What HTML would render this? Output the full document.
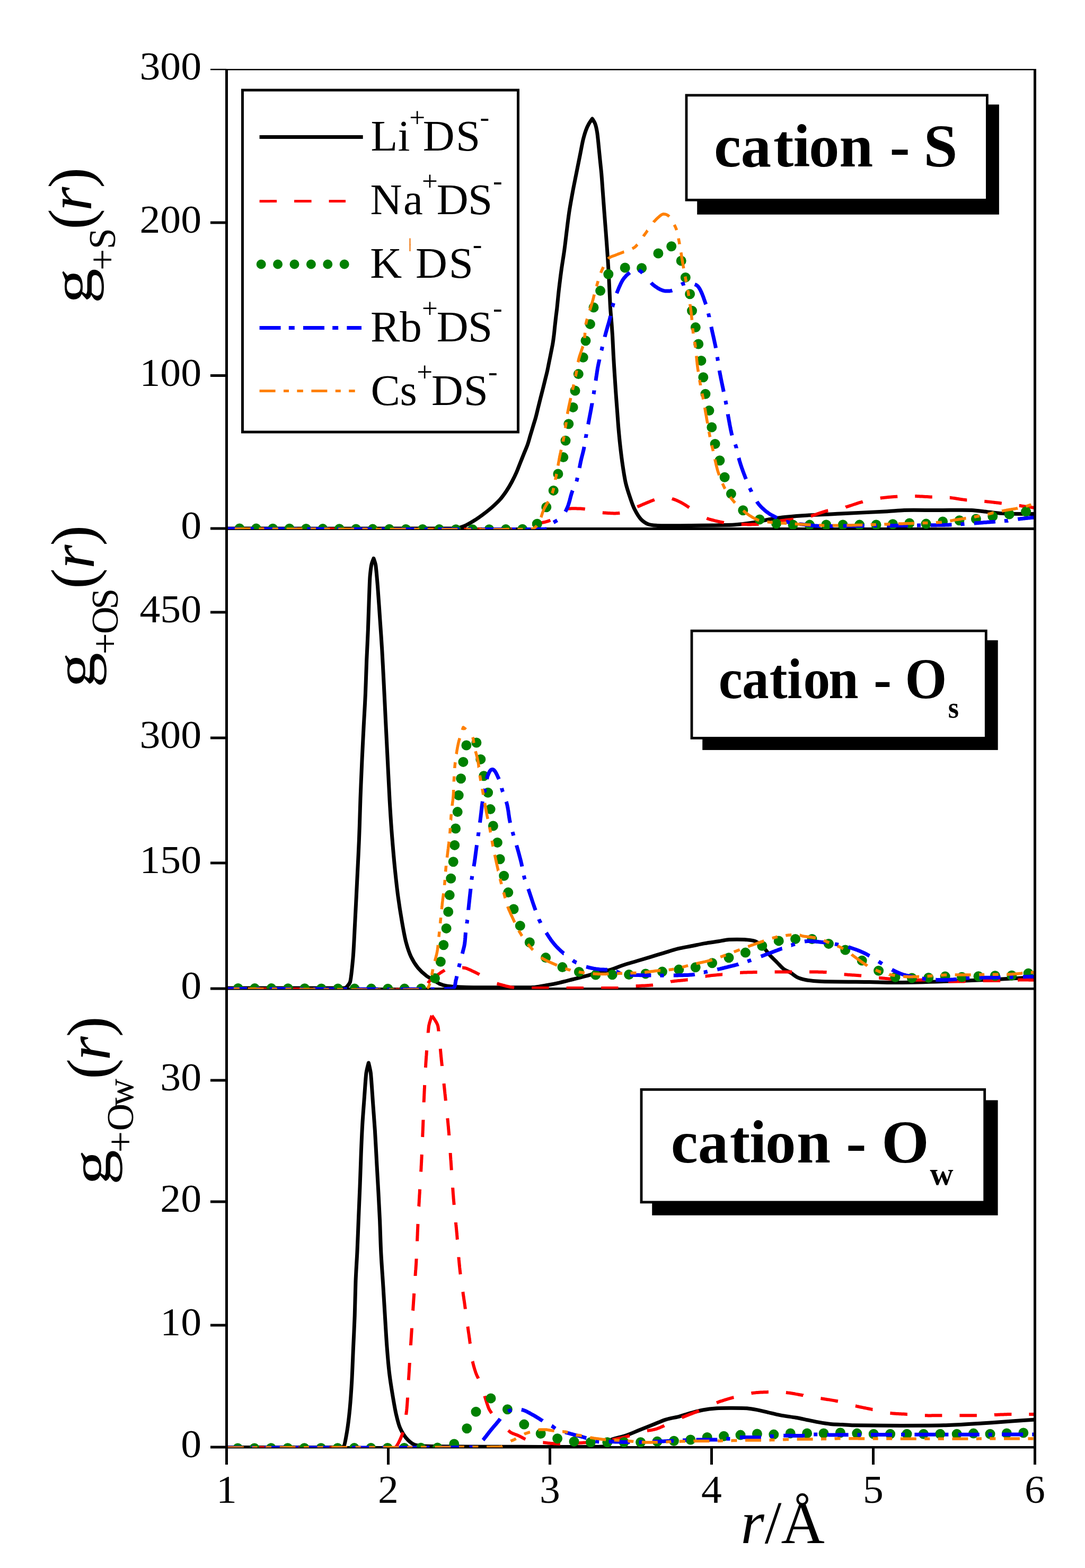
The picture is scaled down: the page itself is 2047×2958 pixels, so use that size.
<!DOCTYPE html>
<html><head><meta charset="utf-8"><style>
html,body{margin:0;padding:0;background:#fff;}
svg{display:block;}
</style></head><body>
<svg width="2047" height="2958" viewBox="0 0 2047 2958">
<rect width="2047" height="2958" fill="#fff"/>
<g fill="#000">
<rect x="425" y="130" width="1530" height="2.5"/>
<rect x="425" y="130" width="5" height="2604"/>
<rect x="1950" y="130" width="5" height="2604"/>
<rect x="425" y="995" width="1530" height="5"/>
<rect x="425" y="1863" width="1530" height="4.5"/>
<rect x="425" y="2728" width="1530" height="4.5"/>
<rect x="397" y="129.8" width="30" height="2.5"/>
<rect x="397" y="417.5" width="30" height="5"/>
<rect x="397" y="706.0" width="30" height="5"/>
<rect x="397" y="994.5" width="30" height="5"/>
<rect x="397" y="1152.5" width="30" height="5"/>
<rect x="397" y="1389.5" width="30" height="5"/>
<rect x="397" y="1625.5" width="30" height="5"/>
<rect x="397" y="1862.5" width="30" height="5"/>
<rect x="397" y="2035.5" width="30" height="5"/>
<rect x="397" y="2264.5" width="30" height="5"/>
<rect x="397" y="2497.5" width="30" height="5"/>
<rect x="397" y="2727.5" width="30" height="5"/>
<rect x="425.0" y="2730" width="5" height="33"/>
<rect x="730.0" y="2730" width="5" height="33"/>
<rect x="1035.0" y="2730" width="5" height="33"/>
<rect x="1340.0" y="2730" width="5" height="33"/>
<rect x="1645.0" y="2730" width="5" height="33"/>
<rect x="1950.0" y="2730" width="5" height="33"/>
</g>
<clipPath id="cp1"><rect x="430" y="132.5" width="1520" height="865.7"/></clipPath>
<g clip-path="url(#cp1)">
<path d="M430.0 997.0C573.3 997.0 854.6 997.7 860.0 997.0C865.4 996.3 870.6 994.7 875.6 992.6C880.6 990.5 888.7 985.7 894.7 982.0C900.7 978.3 906.4 974.2 912.0 970.0C917.6 965.8 924.5 960.3 929.3 956.0C934.1 951.7 938.9 947.3 943.2 942.5C947.5 937.7 951.6 932.0 955.3 926.5C959.0 921.0 962.6 914.8 965.7 909.0C968.8 903.2 971.9 896.9 974.4 891.2C976.9 885.5 979.0 879.6 981.3 873.8C983.6 868.0 985.9 862.3 988.2 856.5C990.5 850.7 993.2 844.9 995.2 839.2C997.2 833.5 998.7 827.6 1000.4 821.8C1002.1 816.0 1003.9 810.3 1005.6 804.5C1007.3 798.7 1009.2 793.0 1010.8 787.2C1012.4 781.4 1013.7 775.6 1015.1 769.8C1016.5 764.0 1018.0 758.3 1019.4 752.5C1020.8 746.7 1022.4 741.0 1023.8 735.2C1025.2 729.4 1026.7 723.7 1028.1 717.9C1029.5 712.1 1031.1 706.2 1032.4 700.5C1033.7 694.8 1034.7 689.0 1035.9 683.2C1037.1 677.4 1038.3 671.7 1039.4 665.9C1040.5 660.1 1041.8 654.2 1042.8 648.5C1043.8 642.8 1044.5 636.9 1045.2 631.2C1045.9 625.5 1046.4 619.3 1047.0 614.0C1047.6 608.7 1048.2 603.3 1048.8 598.0C1049.4 592.7 1050.2 587.3 1050.8 582.0C1051.4 576.7 1053.1 558.0 1054.5 546.0C1055.9 534.0 1057.4 521.6 1059.1 509.4C1060.8 497.2 1062.9 485.1 1064.6 473.0C1066.3 460.9 1067.6 448.7 1069.1 436.6C1070.6 424.5 1072.0 412.3 1073.8 400.2C1075.6 388.1 1077.9 375.9 1080.1 363.8C1082.3 351.7 1084.9 339.5 1087.3 327.4C1089.7 315.3 1092.8 300.1 1094.6 291.0C1096.4 281.9 1098.6 269.8 1100.1 263.7C1101.6 257.6 1104.0 249.6 1105.5 245.5C1107.0 241.4 1109.1 236.8 1111.0 233.5C1112.9 230.2 1117.4 224.0 1117.4 224.0C1117.4 224.0 1121.5 230.1 1122.8 233.5C1124.1 236.9 1125.6 243.8 1126.5 249.1C1127.4 254.4 1128.4 264.9 1129.2 272.8C1130.0 280.7 1131.0 291.0 1131.9 300.1C1132.8 309.2 1133.9 318.3 1134.7 327.4C1135.5 336.5 1136.5 351.7 1137.4 363.8C1138.3 375.9 1139.2 388.1 1140.1 400.2C1141.0 412.3 1142.0 424.5 1142.9 436.6C1143.8 448.7 1144.8 460.9 1145.6 473.0C1146.4 485.1 1147.3 497.3 1148.0 509.4C1148.7 521.5 1149.2 533.7 1149.8 545.8C1150.4 557.9 1151.0 572.9 1151.6 582.2C1152.2 591.5 1153.3 601.8 1153.9 610.0C1154.5 618.2 1155.1 626.5 1155.6 634.7C1156.1 642.9 1156.7 657.9 1157.3 669.4C1157.9 680.9 1158.7 692.5 1159.4 704.0C1160.1 715.5 1160.9 727.1 1161.7 738.7C1162.5 750.3 1163.4 761.8 1164.3 773.4C1165.2 785.0 1165.9 796.5 1166.9 808.1C1167.9 819.7 1169.0 831.3 1170.3 842.8C1171.6 854.3 1173.0 865.9 1174.7 877.4C1176.4 888.9 1178.6 903.3 1180.7 912.1C1182.8 920.9 1186.0 930.5 1188.6 938.1C1191.2 945.7 1193.8 954.0 1197.2 960.7C1200.6 967.4 1205.5 975.7 1209.4 979.7C1213.3 983.7 1218.0 987.0 1223.2 989.0C1228.4 991.0 1234.8 991.1 1240.6 991.5C1246.4 991.9 1280.2 991.7 1300.0 991.5C1319.8 991.3 1373.3 990.8 1385.0 990.0C1396.7 989.2 1409.9 987.6 1420.0 986.0C1430.1 984.4 1441.4 981.5 1450.0 980.0C1458.6 978.5 1467.3 977.0 1476.0 976.0C1484.7 975.0 1501.3 973.6 1514.0 972.7C1526.7 971.8 1565.3 970.1 1591.0 968.8C1616.7 967.5 1663.3 965.3 1674.0 964.7C1684.7 964.1 1695.3 962.9 1706.0 962.5C1716.7 962.1 1749.0 962.5 1770.0 962.5C1791.0 962.5 1822.3 961.9 1833.0 962.5C1843.7 963.1 1854.3 964.9 1865.0 966.0C1875.7 967.1 1886.3 968.5 1897.0 969.0C1907.7 969.5 1933.7 969.3 1952.0 969.5" stroke="#000000" stroke-width="7" fill="none" stroke-linejoin="round"/>
<path d="M430.0 997.8L431.5 997.8L433.0 997.8L434.5 997.8L436.1 997.8L437.6 997.8L439.1 997.8L440.7 997.8L442.2 997.8L443.8 997.8L445.4 997.8L447.0 997.8L448.5 997.8L449.3 997.8M482.3 997.8L483.3 997.8L485.1 997.8L486.8 997.8L488.5 997.8L490.3 997.8L492.0 997.8L493.8 997.8L495.5 997.8L497.3 997.8L499.1 997.9L500.8 997.9L502.6 997.9L504.4 997.9L506.2 997.9L508.0 997.9L509.8 997.9L511.6 997.9L513.4 997.9L514.8 997.9M547.8 997.9L548.5 997.9L550.4 997.9L552.3 997.9L554.2 997.9L556.1 997.9L558.0 997.9L559.9 997.9L561.8 998.0L563.8 998.0L565.7 998.0L567.6 998.0L569.5 998.0L571.4 998.0L573.4 998.0L575.3 998.0L577.2 998.0L579.2 998.0L580.3 998.0M613.3 998.0L614.4 998.1L616.3 998.1L618.3 998.1L620.3 998.1L622.3 998.1L624.2 998.1L626.2 998.1L628.2 998.1L630.2 998.1L632.2 998.1L634.1 998.1L636.1 998.1L638.1 998.1L640.1 998.1L642.1 998.1L644.1 998.1L645.8 998.1M678.8 998.2L679.9 998.2L681.8 998.2L683.8 998.2L685.8 998.2L687.8 998.2L689.8 998.2L691.8 998.2L693.7 998.2L695.7 998.2L697.7 998.2L699.7 998.2L701.7 998.2L703.6 998.2L705.6 998.2L707.6 998.2L709.6 998.2L711.3 998.3M744.3 998.3L744.7 998.3L746.7 998.3L748.6 998.3L750.5 998.3L752.4 998.3L754.4 998.3L756.3 998.3L758.2 998.3L760.1 998.3L762.0 998.3L763.9 998.4L765.8 998.4L767.7 998.4L769.6 998.4L771.5 998.4L773.4 998.4L775.3 998.4L776.8 998.4M809.8 998.4L810.4 998.4L812.2 998.4L814.0 998.4L815.8 998.4L817.6 998.4L819.4 998.4L821.2 998.4L822.9 998.4L824.7 998.4L826.5 998.4L828.2 998.5L830.0 998.5L831.7 998.5L833.5 998.5L835.2 998.5L837.0 998.5L838.7 998.5L840.4 998.5L842.1 998.5L842.3 998.5M875.3 998.5L876.7 998.5L878.3 998.5L879.8 998.5L881.4 998.5L882.9 998.5L884.5 998.5L886.0 998.5L887.6 998.5L889.1 998.5L890.6 998.5L892.1 998.5L893.6 998.5L895.1 998.5L896.6 998.5L898.0 998.5L899.5 998.5L901.0 998.5L902.4 998.5L903.9 998.5L905.3 998.5L906.7 998.5L907.8 998.5M940.8 998.5L941.9 998.4L943.1 998.4L944.2 998.4L945.4 998.4L946.5 998.4L947.7 998.4L948.8 998.4L949.9 998.4L951.0 998.4L952.1 998.4L953.2 998.4L954.2 998.4L955.3 998.4L956.3 998.4L957.4 998.4L958.4 998.4L959.4 998.4L960.4 998.4L961.4 998.4L962.4 998.4L963.4 998.4L964.3 998.4L965.3 998.4L966.2 998.4L967.1 998.4L968.0 998.4L968.9 998.3L969.8 998.3L970.7 998.3L971.6 998.3L972.4 998.3L973.3 998.3M1006.0 992.6L1006.2 992.3L1007.4 991.0L1008.6 989.9L1010.0 989.0L1010.8 988.7L1011.7 988.3L1012.8 988.0L1014.0 987.7L1015.4 987.4L1016.9 987.1L1018.5 986.8L1020.1 986.4L1021.8 986.1L1023.6 985.8L1025.4 985.4L1027.2 985.0L1028.9 984.6L1030.7 984.1L1032.4 983.7L1034.0 983.1L1035.5 982.6L1037.0 982.0L1038.3 981.4M1071.3 959.9L1071.7 959.8L1072.7 959.7L1073.8 959.6L1075.1 959.5L1076.5 959.4L1078.1 959.3L1079.8 959.3L1081.5 959.3L1083.3 959.3L1085.2 959.3L1087.0 959.3L1088.9 959.4L1090.7 959.4L1092.5 959.5L1094.2 959.5L1095.8 959.6L1097.3 959.7L1098.7 959.8L1099.9 959.9L1101.0 960.0L1102.6 960.2L1103.8 960.4M1136.8 967.2L1137.9 967.3L1139.1 967.4L1140.5 967.5L1142.0 967.6L1143.6 967.7L1145.2 967.8L1147.0 967.9L1148.7 968.0L1150.5 968.1L1152.4 968.2L1154.2 968.3L1156.0 968.3L1157.8 968.4L1159.5 968.4L1161.2 968.4L1162.8 968.3L1164.2 968.3L1165.6 968.2L1166.9 968.1L1168.0 968.0L1169.3 967.8M1202.3 956.1L1203.5 955.6L1205.0 955.0L1205.8 954.7L1206.9 954.2L1208.1 953.7L1209.4 953.1L1210.9 952.5L1212.5 951.8L1214.1 951.1L1215.9 950.4L1217.6 949.6L1219.4 948.9L1221.2 948.1L1223.0 947.4L1224.7 946.7L1226.4 946.0L1228.0 945.3L1229.5 944.7L1230.8 944.2L1232.1 943.7L1233.1 943.3L1234.0 943.0L1234.8 942.7M1267.8 940.7L1268.3 940.9L1269.7 941.3L1271.1 941.8L1272.5 942.3L1274.0 942.9L1275.5 943.5L1277.0 944.1L1278.4 944.8L1279.9 945.5L1281.2 946.1L1282.6 946.8L1283.8 947.4L1285.0 948.0L1286.5 948.8L1287.9 949.6L1289.3 950.4L1290.7 951.3L1292.1 952.1L1293.5 953.0L1294.9 953.9L1296.2 954.8L1297.6 955.7L1299.0 956.6L1300.0 957.2L1300.3 957.4M1333.3 977.7L1334.0 978.0L1334.8 978.3L1335.7 978.6L1336.8 979.0L1338.0 979.4L1339.4 979.8L1340.8 980.2L1342.3 980.6L1343.9 981.0L1345.6 981.4L1347.3 981.9L1349.0 982.3L1350.8 982.8L1352.6 983.2L1354.4 983.6L1356.2 984.0L1358.0 984.4L1359.7 984.8L1361.4 985.1L1363.0 985.4L1364.5 985.7L1365.8 986.0M1398.8 989.1L1398.9 989.1L1400.4 989.2L1402.0 989.2L1403.6 989.3L1405.2 989.3L1406.9 989.3L1408.6 989.3L1410.3 989.4L1411.9 989.4L1413.6 989.4L1415.3 989.4L1416.9 989.4L1418.5 989.3L1420.1 989.3L1421.6 989.3L1423.0 989.3L1424.4 989.2L1425.7 989.2L1426.9 989.1L1428.0 989.1L1429.0 989.0L1430.5 988.9L1431.3 988.8M1464.3 983.8L1465.1 983.6L1466.7 983.4L1468.3 983.1L1470.0 982.9L1471.5 982.6L1473.1 982.4L1474.6 982.2L1476.0 982.0L1477.5 981.8L1479.0 981.6L1480.5 981.4L1482.0 981.2L1483.5 981.1L1485.0 980.9L1486.5 980.7L1488.0 980.5L1489.5 980.4L1491.0 980.2L1492.5 980.0L1494.0 979.8L1495.5 979.6L1496.8 979.5M1529.8 973.5L1530.7 973.3L1532.1 972.9L1533.5 972.4L1534.9 972.0L1536.3 971.5L1537.8 971.0L1539.3 970.5L1540.8 970.0L1542.3 969.4L1543.8 968.9L1545.3 968.4L1546.8 967.8L1548.3 967.3L1549.9 966.8L1551.4 966.3L1552.9 965.8L1554.5 965.3L1556.0 964.8L1557.5 964.4L1559.0 964.0L1560.4 963.6L1561.8 963.3L1562.3 963.2M1595.3 956.7L1595.5 956.6L1596.9 956.2L1598.4 955.8L1599.9 955.3L1601.3 954.9L1602.8 954.4L1604.2 954.0L1605.7 953.5L1607.1 953.0L1608.6 952.5L1610.0 952.0L1611.5 951.5L1612.9 951.0L1614.3 950.6L1615.8 950.1L1617.2 949.6L1618.7 949.1L1620.1 948.7L1621.6 948.2L1623.1 947.8L1624.5 947.4L1626.0 947.0L1627.5 946.6L1627.8 946.5M1660.8 939.7L1662.0 939.5L1663.6 939.3L1665.1 939.1L1666.6 938.9L1668.1 938.8L1669.6 938.6L1671.2 938.4L1672.7 938.3L1674.2 938.1L1675.8 938.0L1677.3 937.8L1678.8 937.7L1680.3 937.6L1681.9 937.4L1683.4 937.3L1684.9 937.2L1686.5 937.1L1688.0 937.0L1689.3 936.9L1690.6 936.8L1692.0 936.8L1693.3 936.7M1726.3 936.1L1727.7 936.1L1729.2 936.1L1730.8 936.2L1732.4 936.2L1734.0 936.3L1735.5 936.4L1737.1 936.5L1738.7 936.5L1740.3 936.6L1741.8 936.7L1743.4 936.8L1744.9 936.9L1746.5 937.0L1748.0 937.1L1749.5 937.1L1751.1 937.2L1752.6 937.3L1754.1 937.4L1755.5 937.4L1757.0 937.5L1758.5 937.6L1758.8 937.6M1791.8 938.8L1792.0 938.8L1793.6 939.0L1795.1 939.2L1796.6 939.4L1798.1 939.6L1799.6 939.8L1801.2 940.0L1802.7 940.3L1804.2 940.5L1805.7 940.8L1807.3 941.0L1808.8 941.3L1810.3 941.5L1811.8 941.8L1813.4 942.0L1814.9 942.2L1816.4 942.4L1817.9 942.6L1819.5 942.8L1821.0 943.0L1822.5 943.2L1823.9 943.3L1824.3 943.3M1857.3 945.8L1858.6 945.9L1860.1 946.1L1861.6 946.2L1863.2 946.4L1864.7 946.6L1866.2 946.7L1867.7 946.9L1869.3 947.1L1870.8 947.2L1872.3 947.4L1873.8 947.6L1875.3 947.7L1876.9 947.9L1878.4 948.1L1879.9 948.3L1881.4 948.5L1883.0 948.6L1884.5 948.8L1886.0 949.0L1887.5 949.2L1889.0 949.4L1889.8 949.5M1922.8 953.9L1923.0 953.9L1924.6 954.1L1926.1 954.3L1927.6 954.6L1929.1 954.8L1930.7 955.0L1932.2 955.2L1933.7 955.4L1935.2 955.6L1936.8 955.8L1938.3 956.1L1939.8 956.3L1941.3 956.5L1942.9 956.7L1944.4 956.9L1945.9 957.1L1947.4 957.4L1949.0 957.6L1950.5 957.8L1952.0 958.0" stroke="#ff0000" stroke-width="6" stroke-linejoin="round" fill="none"/>
<path d="M451.9 997.0h0.01M483.3 997.1h0.01M514.7 997.2h0.01M546.1 997.3h0.01M577.5 997.4h0.01M608.9 997.6h0.01M640.3 997.8h0.01M671.7 997.9h0.01M703.1 998.1h0.01M734.5 998.2h0.01M765.9 998.4h0.01M797.3 998.5h0.01M828.7 998.6h0.01M860.1 998.7h0.01M891.5 998.8h0.01M922.9 998.7h0.01M954.3 998.6h0.01M985.7 998.2h0.01M1013.3 988.2h0.01M1030.8 956.8h0.01M1044.2 925.4h0.01M1052.9 894.0h0.01M1062.8 862.6h0.01M1067.0 831.2h0.01M1072.8 799.8h0.01M1081.1 768.4h0.01M1085.0 737.0h0.01M1091.3 705.6h0.01M1100.2 674.2h0.01M1105.0 642.8h0.01M1113.4 611.4h0.01M1120.0 580.0h0.01M1132.6 548.6h0.01M1147.8 517.2h0.01M1179.2 505.0h0.01M1210.6 505.7h0.01M1241.9 478.0h0.01" stroke="#008000" stroke-width="19" stroke-linecap="round" fill="none"/>
<path d="M1285.2 492.0h0.01M1293.3 523.4h0.01M1301.6 554.8h0.01M1305.5 586.2h0.01M1312.3 617.6h0.01M1317.7 649.0h0.01M1322.9 680.4h0.01M1326.8 711.8h0.01M1330.9 743.2h0.01M1337.9 774.6h0.01M1342.8 806.0h0.01M1349.1 837.4h0.01M1357.9 868.8h0.01M1367.1 900.2h0.01M1379.4 931.6h0.01M1401.8 962.8h0.01M1433.2 979.9h0.01M1464.6 987.8h0.01M1496.0 989.9h0.01M1527.4 990.1h0.01M1558.8 990.0h0.01M1590.2 990.0h0.01M1621.6 990.1h0.01M1653.0 990.0h0.01M1684.4 988.7h0.01M1715.8 987.0h0.01M1747.2 988.1h0.01M1778.6 984.0h0.01M1810.0 981.8h0.01M1841.4 979.0h0.01M1872.8 974.1h0.01M1904.2 970.0h0.01M1935.6 965.1h0.01" stroke="#008000" stroke-width="19" stroke-linecap="round" fill="none"/>
<path d="M1266.7 464.7h0.01" stroke="#008000" stroke-width="19" stroke-linecap="round" fill="none"/>
<path d="M430.0 997.8L431.5 997.8L433.0 997.8L434.5 997.8L436.1 997.8L437.6 997.8L439.1 997.8L440.7 997.8L442.2 997.8L443.8 997.8L445.4 997.8L446.9 997.8L448.5 997.8L450.1 997.8L451.7 997.8L453.3 997.8L454.5 997.8M471.5 997.8L473.0 997.8L474.7 997.8L476.4 997.8L478.1 997.8L478.5 997.8M496.9 997.9L497.1 997.9L498.8 997.9L500.6 997.9L502.4 997.9L504.1 997.9L505.9 997.9L507.7 997.9L509.5 997.9L511.3 997.9L513.1 997.9L514.9 997.9L516.7 997.9L518.5 997.9L520.3 997.9L522.1 997.9L524.0 997.9L525.8 997.9L527.6 997.9L529.5 997.9L531.3 997.9L533.1 997.9L535.0 997.9L536.8 997.9L536.9 997.9M553.9 997.9L555.6 998.0L557.5 998.0L559.4 998.0L560.9 998.0M579.3 998.0L580.4 998.0L582.4 998.0L584.3 998.0L586.2 998.0L588.2 998.0L590.1 998.0L592.0 998.0L594.0 998.0L595.9 998.0L597.9 998.0L599.8 998.0L601.8 998.0L603.7 998.1L605.7 998.1L607.7 998.1L609.6 998.1L611.6 998.1L613.6 998.1L615.5 998.1L617.5 998.1L619.3 998.1M636.3 998.1L637.3 998.1L639.2 998.1L641.2 998.1L643.2 998.1L643.3 998.1M661.7 998.2L663.1 998.2L665.1 998.2L667.1 998.2L669.1 998.2L671.1 998.2L673.1 998.2L675.1 998.2L677.1 998.2L679.1 998.2L681.1 998.2L683.0 998.2L685.0 998.2L687.0 998.2L689.0 998.2L691.0 998.3L693.0 998.3L695.0 998.3L697.0 998.3L699.0 998.3L701.0 998.3L701.7 998.3M718.7 998.3L718.8 998.3L720.8 998.3L722.8 998.3L724.8 998.3L725.7 998.3M744.1 998.4L744.5 998.4L746.4 998.4L748.4 998.4L750.3 998.4L752.3 998.4L754.2 998.4L756.2 998.4L758.1 998.4L760.1 998.4L762.0 998.4L764.0 998.4L765.9 998.4L767.8 998.4L769.8 998.4L771.7 998.4L773.6 998.4L775.6 998.4L777.5 998.4L779.4 998.4L781.3 998.5L783.2 998.5L784.1 998.5M801.1 998.5L802.2 998.5L804.1 998.5L805.9 998.5L807.8 998.5L808.1 998.5M826.5 998.5L828.1 998.5L829.9 998.5L831.8 998.5L833.6 998.5L835.4 998.6L837.2 998.6L839.0 998.6L840.8 998.6L842.6 998.6L844.4 998.6L846.1 998.6L847.9 998.6L849.7 998.6L851.5 998.6L853.2 998.6L855.0 998.6L856.7 998.6L858.5 998.6L860.2 998.6L862.0 998.6L863.7 998.6L865.4 998.6L866.5 998.6M883.5 998.6L884.0 998.6L885.7 998.6L887.3 998.6L889.0 998.6L890.5 998.6M908.9 998.6L909.8 998.6L911.3 998.6L912.9 998.6L914.4 998.6L915.9 998.6L917.4 998.6L919.0 998.6L920.5 998.6L922.0 998.6L923.5 998.6L925.0 998.6L926.4 998.6L927.9 998.6L929.4 998.6L930.8 998.6L932.3 998.6L933.7 998.6L935.2 998.6L936.6 998.6L938.0 998.6L939.4 998.6L940.8 998.6L942.2 998.6L943.6 998.6L945.0 998.6L946.4 998.6L947.7 998.6L948.9 998.6M965.9 998.6L967.1 998.6L968.3 998.6L969.5 998.6L970.8 998.6L971.9 998.6L972.9 998.6M991.3 998.5L991.8 998.5L992.8 998.5L993.8 998.5L994.8 998.5L995.8 998.5L996.7 998.5L997.7 998.5L998.6 998.5L999.6 998.5L1000.5 998.5L1001.4 998.5L1002.3 998.5L1003.2 998.4L1004.1 998.4L1004.9 998.4L1005.8 998.4L1006.6 998.4L1007.5 998.4L1008.3 998.4L1009.1 998.4L1009.9 998.4L1010.7 998.4L1011.5 998.4L1012.2 998.4L1013.0 998.4L1013.7 998.4L1014.5 998.4L1015.2 998.3L1015.9 998.3L1016.6 998.3L1017.3 998.3L1017.9 998.3L1018.6 998.3L1019.2 998.3L1019.9 998.3L1020.5 998.3L1021.1 998.3L1021.7 998.3L1022.3 998.3L1022.9 998.3L1023.4 998.2L1024.0 998.2L1024.5 998.2L1025.0 998.2L1025.5 998.2L1026.0 998.2L1026.5 998.2L1027.0 998.2L1027.5 998.2L1027.9 998.2L1028.3 998.1L1028.8 998.1L1029.2 998.1L1029.6 998.1L1029.9 998.1L1030.3 998.1L1030.7 998.1L1031.0 998.1L1031.3 998.1M1044.3 985.6L1044.7 985.4L1046.0 984.6L1047.4 983.8L1048.9 982.9L1050.4 982.0L1051.3 981.5M1066.6 965.3L1067.0 964.6L1067.7 963.2L1068.4 961.8L1069.1 960.3L1069.7 958.9L1070.4 957.4L1071.0 956.0L1071.5 954.8L1071.9 953.5L1072.4 952.2L1072.9 950.7L1073.3 949.2L1073.8 947.7L1074.2 946.1L1074.7 944.4L1075.1 942.8L1075.5 941.1L1076.0 939.5L1076.4 937.8L1076.8 936.2L1077.3 934.6L1077.7 933.1L1078.1 931.7L1078.6 930.3L1079.0 929.0L1079.5 927.5L1080.1 926.0L1080.4 925.3M1087.6 908.3L1088.0 907.0L1088.3 906.0L1088.6 904.9L1088.9 903.7L1089.2 902.3L1089.4 901.3M1093.2 882.9L1093.4 881.7L1093.8 880.0L1094.1 878.3L1094.4 876.7L1094.7 875.2L1095.0 873.7L1095.3 872.4L1095.5 871.1L1095.8 870.0L1096.0 869.0L1096.4 867.5L1096.7 865.9L1097.1 864.4L1097.5 862.8L1097.9 861.2L1098.3 859.7L1098.7 858.1L1099.1 856.6L1099.5 855.0L1099.9 853.5L1100.2 852.0L1100.6 850.5L1101.0 849.0L1101.3 847.5L1101.6 846.0L1101.9 844.4L1102.2 842.9M1105.1 825.9L1105.1 825.6L1105.4 824.0L1105.6 822.9L1105.8 821.6L1106.1 820.3L1106.3 818.9M1109.7 800.5L1109.9 799.4L1110.2 797.8L1110.5 796.3L1110.7 794.9L1111.0 793.5L1111.3 791.9L1111.6 790.4L1111.9 788.8L1112.2 787.2L1112.5 785.7L1112.8 784.1L1113.1 782.5L1113.4 781.0L1113.7 779.4L1114.0 777.8L1114.3 776.3L1114.6 774.7L1114.9 773.2L1115.2 771.6L1115.4 770.1L1115.7 768.5L1116.0 767.0L1116.3 765.5L1116.5 763.9L1116.8 762.4L1117.1 760.9L1117.1 760.5M1120.0 743.5L1120.2 742.5L1120.4 741.0L1120.6 739.7L1120.8 738.2L1121.1 736.7L1121.1 736.5M1123.9 718.1L1124.1 717.1L1124.3 715.7L1124.5 714.4L1124.7 713.1L1124.8 712.0L1125.0 711.0L1125.2 709.4L1125.5 707.8L1125.7 706.2L1126.0 704.7L1126.2 703.1L1126.4 701.5L1126.7 699.9L1126.9 698.3L1127.2 696.7L1127.4 695.2L1127.7 693.6L1128.0 692.0L1128.2 691.1L1128.4 690.1L1128.6 689.0L1128.8 687.8L1129.1 686.5L1129.4 685.1L1129.7 683.6L1130.1 682.1L1130.4 680.5L1130.8 678.9L1130.9 678.1M1134.8 661.1L1134.9 660.8L1135.2 659.4L1135.5 658.0L1135.9 656.5L1136.2 655.0L1136.4 654.1M1141.0 635.7L1141.1 635.1L1141.5 633.6L1141.9 632.2L1142.3 630.8L1142.6 629.4L1143.0 628.0L1143.4 626.5L1143.8 625.0L1144.3 623.4L1144.7 621.9L1145.1 620.3L1145.6 618.8L1146.0 617.2L1146.5 615.6L1146.9 614.1L1147.4 612.6L1147.8 611.0L1148.3 609.5L1148.7 608.0L1149.1 606.6L1149.5 605.1L1149.9 603.7L1150.3 602.3L1150.6 601.0L1151.0 599.5L1151.3 598.0L1151.7 596.5L1151.8 595.7M1155.5 578.7L1155.6 578.5L1156.0 577.0L1156.4 575.6L1156.8 574.2L1157.2 572.7L1157.5 571.7M1163.5 553.3L1164.0 552.0L1164.6 550.5L1165.2 549.0L1165.8 547.4L1166.5 545.8L1167.1 544.2L1167.8 542.6L1168.5 541.0L1169.2 539.4L1169.9 537.9L1170.6 536.3L1171.3 534.9L1172.0 533.5L1172.6 532.2L1173.3 531.0L1173.9 529.9L1174.5 528.9L1175.0 528.0L1175.9 526.7L1176.9 525.3L1177.9 524.0L1179.0 522.8L1180.1 521.6L1181.2 520.4L1182.3 519.2L1183.5 518.1L1184.8 517.0L1186.0 516.0L1187.3 515.0L1188.2 514.3M1205.2 509.6L1206.0 510.1L1207.4 511.0L1208.7 512.0L1210.0 513.0L1210.5 513.4L1211.1 514.0L1211.9 514.8L1212.2 515.1M1228.4 533.5L1229.2 534.4L1230.2 535.4L1231.2 536.3L1232.0 537.0L1233.2 538.0L1234.5 539.0L1235.8 539.9L1237.1 540.9L1238.5 541.8L1239.8 542.7L1241.2 543.6L1242.6 544.4L1244.0 545.2L1245.3 545.9L1246.7 546.6L1248.0 547.1L1249.3 547.6L1250.5 548.0L1252.1 548.4L1253.7 548.7L1255.4 548.9L1257.1 549.0L1258.8 549.1L1260.5 549.1L1262.1 549.0L1263.7 548.9L1265.3 548.6L1266.7 548.3L1268.0 548.0L1268.3 547.9M1285.3 536.7L1285.5 536.6L1287.0 535.9L1288.5 535.4L1290.0 535.0L1290.8 534.9L1291.9 534.8L1292.3 534.7M1310.7 536.5L1312.1 537.0L1313.6 537.7L1315.0 538.6L1315.8 539.3L1316.7 540.1L1317.5 541.1L1318.3 542.2L1319.1 543.4L1319.9 544.7L1320.7 546.1L1321.5 547.6L1322.2 549.1L1323.0 550.7L1323.7 552.4L1324.4 554.0L1325.1 555.7L1325.7 557.4L1326.4 559.0L1327.0 560.7L1327.6 562.3L1328.1 563.9L1328.7 565.5L1329.2 566.9L1329.7 568.4L1330.2 569.7L1330.6 570.9L1331.0 572.0L1331.5 573.5L1331.8 574.2M1336.4 591.2L1336.6 592.1L1337.0 593.7L1337.3 595.1L1337.7 596.6L1338.0 598.0L1338.0 598.2M1341.9 616.6L1342.1 617.5L1342.4 619.0L1342.7 620.5L1343.0 622.0L1343.3 623.2L1343.5 624.5L1343.8 625.9L1344.2 627.3L1344.5 628.9L1344.9 630.4L1345.2 632.1L1345.6 633.7L1346.0 635.4L1346.4 637.2L1346.8 638.9L1347.1 640.6L1347.5 642.3L1347.9 643.9L1348.2 645.6L1348.6 647.2L1348.9 648.7L1349.2 650.1L1349.5 651.5L1349.8 652.8L1350.0 654.0L1350.3 655.5L1350.5 656.6M1353.3 673.6L1353.5 675.0L1353.8 676.5L1354.0 678.0L1354.2 679.5L1354.4 680.6M1357.3 699.0L1357.4 699.9L1357.7 701.4L1358.0 703.0L1358.2 704.1L1358.4 705.4L1358.7 706.7L1359.0 708.1L1359.3 709.6L1359.6 711.1L1359.9 712.7L1360.2 714.4L1360.6 716.0L1360.9 717.7L1361.3 719.4L1361.6 721.2L1362.0 722.9L1362.3 724.6L1362.7 726.2L1363.0 727.9L1363.3 729.4L1363.7 731.0L1364.0 732.4L1364.2 733.8L1364.5 735.2L1364.8 736.4L1365.0 737.5L1365.3 739.0M1368.8 756.0L1369.1 757.5L1369.4 759.0L1369.7 760.5L1370.0 762.0L1370.2 763.0M1373.2 781.4L1373.2 781.5L1373.5 783.0L1373.7 784.5L1374.0 786.0L1374.2 787.1L1374.4 788.3L1374.7 789.6L1374.9 791.1L1375.2 792.6L1375.5 794.1L1375.8 795.8L1376.1 797.4L1376.4 799.2L1376.7 800.9L1377.1 802.7L1377.4 804.4L1377.8 806.2L1378.1 807.9L1378.4 809.7L1378.8 811.3L1379.1 813.0L1379.5 814.5L1379.8 816.0L1380.1 817.4L1380.4 818.7L1380.7 819.9L1381.0 821.0L1381.1 821.4M1387.1 838.4L1387.6 839.7L1388.1 841.1L1388.6 842.5L1389.0 844.0L1389.4 845.3L1389.4 845.4M1393.8 863.8L1394.0 864.4L1394.3 866.0L1394.7 867.5L1395.1 869.0L1395.6 870.5L1396.0 872.0L1396.4 873.4L1396.9 874.8L1397.4 876.3L1397.8 877.8L1398.4 879.3L1398.9 880.9L1399.4 882.4L1400.0 884.0L1400.5 885.5L1401.1 887.1L1401.6 888.7L1402.2 890.2L1402.8 891.7L1403.3 893.2L1403.9 894.7L1404.4 896.1L1405.0 897.5L1405.5 898.9L1406.0 900.2L1406.5 901.5L1407.1 903.0L1407.4 903.8M1414.5 920.8L1415.0 921.8L1415.6 923.2L1416.3 924.6L1417.0 926.0L1417.7 927.3L1417.9 927.8M1427.9 946.2L1428.2 946.7L1429.0 947.8L1429.8 949.0L1430.6 950.0L1431.5 951.2L1432.5 952.4L1433.5 953.6L1434.6 954.7L1435.6 955.9L1436.7 957.0L1437.8 958.1L1438.9 959.1L1440.1 960.2L1441.2 961.2L1442.3 962.2L1443.5 963.2L1444.7 964.2L1445.8 965.1L1447.0 966.0L1448.3 966.9L1449.5 967.8L1450.8 968.7L1452.2 969.6L1453.5 970.4L1454.8 971.2L1456.2 972.0L1457.6 972.7L1459.0 973.5L1460.4 974.2L1461.8 974.9L1463.2 975.6L1464.6 976.3L1465.9 977.0M1482.9 983.8L1483.9 984.1L1485.4 984.6L1487.0 985.0L1487.7 985.2L1488.4 985.3L1489.3 985.5L1489.9 985.6M1508.3 988.6L1508.7 988.6L1510.4 988.9L1512.2 989.1L1514.0 989.3L1515.8 989.6L1517.6 989.8L1519.4 990.0L1521.2 990.2L1523.0 990.4L1524.8 990.6L1526.6 990.8L1528.4 991.0L1530.1 991.2L1531.8 991.3L1533.6 991.5L1535.2 991.6L1536.9 991.8L1538.5 991.9L1540.0 992.0L1541.3 992.1L1542.7 992.2L1544.1 992.2L1545.5 992.3L1546.9 992.3L1548.3 992.4L1548.3 992.4M1565.3 992.5L1566.1 992.5L1567.6 992.5L1569.2 992.5L1570.7 992.4L1572.3 992.4L1572.3 992.4M1590.7 992.1L1590.9 992.1L1592.4 992.1L1593.9 992.0L1595.5 992.0L1597.0 992.0L1598.5 992.0L1600.0 992.0L1600.9 992.0L1601.9 992.0L1602.9 992.0L1603.9 992.0L1605.0 992.0L1606.1 992.0L1607.3 992.0L1608.4 992.0L1609.6 992.0L1610.9 992.0L1612.2 992.0L1613.4 992.0L1614.8 992.0L1616.1 992.0L1617.5 992.0L1618.9 991.9L1620.3 991.9L1621.8 991.9L1623.2 991.9L1624.7 991.9L1626.2 991.9L1627.8 991.9L1629.3 991.9L1630.7 991.9M1647.7 991.8L1649.0 991.8L1650.7 991.8L1652.4 991.8L1654.1 991.8L1654.7 991.8M1673.1 991.7L1674.7 991.7L1676.4 991.7L1678.0 991.7L1679.7 991.7L1681.3 991.7L1683.0 991.6L1684.6 991.6L1686.2 991.6L1687.8 991.6L1689.4 991.6L1691.0 991.6L1692.5 991.6L1694.1 991.6L1695.6 991.5L1697.1 991.5L1698.5 991.5L1700.0 991.5L1701.5 991.5L1703.1 991.5L1704.6 991.5L1706.2 991.4L1707.8 991.4L1709.5 991.4L1711.1 991.4L1712.8 991.4L1713.1 991.4M1730.1 991.2L1730.2 991.2L1732.0 991.1L1733.7 991.1L1735.5 991.1L1737.1 991.1M1755.5 990.8L1756.5 990.8L1758.2 990.8L1759.9 990.8L1761.6 990.7L1763.2 990.7L1764.8 990.7L1766.4 990.7L1768.0 990.6L1769.5 990.6L1771.0 990.6L1772.5 990.6L1774.0 990.5L1775.4 990.5L1776.8 990.5L1778.2 990.5L1779.6 990.4L1780.9 990.4L1782.1 990.4L1783.4 990.3L1784.6 990.3L1785.8 990.3L1786.9 990.3L1788.0 990.2L1789.0 990.2L1790.0 990.2L1791.0 990.1L1791.9 990.1L1792.7 990.1L1793.5 990.1L1794.3 990.0L1795.0 990.0L1795.5 990.0M1812.5 989.0L1813.8 988.9L1815.3 988.7L1816.9 988.6L1818.4 988.5L1819.5 988.4M1837.9 987.0L1838.0 987.0L1839.6 986.9L1841.2 986.8L1842.8 986.7L1844.4 986.5L1846.1 986.4L1847.8 986.3L1849.5 986.2L1851.2 986.0L1852.9 985.9L1854.7 985.8L1856.4 985.6L1858.1 985.5L1859.8 985.4L1861.4 985.3L1863.0 985.1L1864.7 985.0L1866.2 984.9L1867.8 984.8L1869.2 984.7L1870.7 984.6L1872.1 984.5L1873.4 984.4L1874.6 984.3L1875.8 984.2L1877.0 984.1L1877.9 984.0M1894.9 982.8L1895.8 982.7L1897.4 982.6L1898.8 982.5L1900.2 982.4L1901.6 982.3L1901.9 982.2M1920.3 979.4L1921.4 979.2L1923.0 979.0L1924.1 978.9L1925.2 978.7L1926.5 978.6L1927.8 978.4L1929.2 978.3L1930.7 978.1L1932.2 978.0L1933.8 977.8L1935.4 977.6L1937.1 977.5L1938.8 977.3L1940.5 977.1L1942.2 977.0L1943.9 976.8L1945.5 976.6L1947.2 976.5L1948.8 976.3L1950.4 976.2L1952.0 976.0" stroke="#0000ff" stroke-width="7" stroke-linejoin="round" fill="none"/>
<path d="M442.9 997.8L443.8 997.8L445.4 997.8L447.0 997.8L448.5 997.8L450.1 997.8L451.7 997.8L453.3 997.8L455.0 997.8L456.6 997.8L458.2 997.8L459.8 997.8L461.5 997.8L463.1 997.8L464.8 997.8L466.4 997.8L468.1 997.8L469.8 997.8L471.4 997.8L472.9 997.8M488.4 997.9L488.5 997.9L490.3 997.9L492.0 997.9L493.8 997.9L495.5 997.9L497.3 997.9L498.4 997.9M513.9 997.9L515.2 997.9L517.0 997.9L518.8 997.9L520.6 997.9L522.5 997.9L524.3 997.9L524.9 997.9M540.5 998.0L541.0 998.0L542.8 998.0L544.7 998.0L546.6 998.0L548.5 998.0L550.4 998.0L552.3 998.0L554.2 998.0L556.0 998.0L558.0 998.0L559.9 998.0L561.8 998.0L563.7 998.0L565.6 998.0L567.5 998.0L569.4 998.0L570.5 998.0M586.0 998.1L586.8 998.1L588.8 998.1L590.7 998.1L592.7 998.1L594.6 998.1L596.0 998.1M611.5 998.1L612.3 998.1L614.2 998.1L616.2 998.1L618.2 998.1L620.1 998.2L622.1 998.2L622.5 998.2M638.1 998.2L639.9 998.2L641.9 998.2L643.9 998.2L645.9 998.2L647.9 998.2L649.9 998.2L651.9 998.2L653.8 998.2L655.8 998.3L657.8 998.3L659.8 998.3L661.8 998.3L663.8 998.3L665.8 998.3L667.8 998.3L668.1 998.3M683.6 998.3L683.7 998.3L685.6 998.3L687.6 998.3L689.6 998.3L691.6 998.4L693.6 998.4L693.6 998.4M709.1 998.4L709.4 998.4L711.4 998.4L713.3 998.4L715.3 998.4L717.3 998.4L719.2 998.4L720.1 998.4M735.7 998.5L736.8 998.5L738.8 998.5L740.7 998.5L742.7 998.5L744.6 998.5L746.5 998.5L748.5 998.5L750.4 998.5L752.3 998.5L754.3 998.5L756.2 998.5L758.1 998.5L760.0 998.5L761.9 998.5L763.8 998.5L765.7 998.5M781.2 998.6L782.8 998.6L784.6 998.6L786.5 998.6L788.4 998.6L790.2 998.6L791.2 998.6M806.7 998.6L806.8 998.6L808.6 998.6L810.5 998.6L812.3 998.7L814.1 998.7L815.9 998.7L817.7 998.7M833.3 998.7L833.6 998.7L835.4 998.7L837.1 998.7L838.9 998.7L840.6 998.7L842.3 998.7L844.0 998.7L845.8 998.7L847.5 998.7L849.2 998.7L850.9 998.7L852.6 998.7L854.2 998.7L855.9 998.7L857.6 998.7L859.3 998.7L860.9 998.7L862.6 998.7L863.3 998.7M878.8 998.7L880.3 998.7L881.9 998.7L883.5 998.7L885.0 998.7L886.6 998.7L888.1 998.7L888.8 998.7M904.3 998.7L904.6 998.7L906.1 998.7L907.5 998.7L909.0 998.7L910.4 998.7L911.8 998.7L913.2 998.7L914.6 998.7L915.3 998.7M930.9 998.7L932.1 998.7L933.4 998.7L934.6 998.7L935.9 998.7L937.2 998.7L938.4 998.7L939.6 998.7L940.9 998.7L942.1 998.7L943.3 998.7L944.5 998.7L945.7 998.7L946.8 998.7L948.0 998.7L949.2 998.7L950.3 998.7L951.4 998.7L952.6 998.7L953.7 998.7L954.8 998.6L955.9 998.6L957.0 998.6L958.1 998.6L959.1 998.6L960.2 998.6L960.9 998.6M976.4 998.5L976.4 998.5L977.3 998.5L978.1 998.5L978.9 998.5L979.8 998.5L980.6 998.5L981.4 998.5L982.1 998.5L982.9 998.5L983.7 998.4L984.4 998.4L985.2 998.4L985.9 998.4L986.4 998.4M1001.9 998.1L1002.2 998.1L1002.4 998.0L1002.7 998.0L1003.0 998.0L1003.2 998.0L1003.4 998.0L1003.6 998.0L1003.8 998.0L1004.0 997.9L1004.2 997.9L1004.3 997.9L1004.5 997.9L1004.6 997.9L1004.7 997.9L1004.8 997.8L1004.9 997.8L1005.0 997.8L1005.0 997.8L1006.4 997.2L1007.7 996.4L1008.9 995.5L1010.1 994.5L1011.2 993.4L1012.2 992.3L1012.7 991.7M1020.7 976.1L1020.9 975.6L1021.4 974.0L1021.9 972.3L1022.5 970.6L1023.0 968.9L1023.6 967.2L1024.2 965.6L1024.8 964.0L1025.4 962.5L1026.0 961.0L1026.5 959.8L1027.1 958.6L1027.8 957.4L1028.5 956.2L1029.2 954.9L1029.9 953.6L1030.7 952.3L1031.5 951.0L1032.3 949.7L1033.1 948.4L1033.9 947.0L1034.4 946.1M1041.8 930.6L1041.9 930.4L1042.4 929.0L1042.8 927.6L1043.2 926.2L1043.6 924.8L1044.0 923.3L1044.3 921.8L1044.6 920.6M1047.8 905.1L1047.8 905.0L1048.1 903.5L1048.4 902.0L1048.7 900.5L1049.0 899.0L1049.3 897.6L1049.6 896.2L1049.8 894.8L1050.0 894.1M1052.8 878.5L1052.9 878.0L1053.2 876.4L1053.4 874.9L1053.7 873.3L1054.0 871.7L1054.3 870.2L1054.6 868.6L1054.8 867.1L1055.1 865.5L1055.4 864.0L1055.7 862.5L1056.0 861.0L1056.3 859.5L1056.6 858.0L1056.9 856.6L1057.2 855.1L1057.6 853.6L1057.9 852.1L1058.2 850.6L1058.6 849.2L1058.7 848.5M1062.2 833.0L1062.2 832.9L1062.5 831.4L1062.8 829.9L1063.1 828.5L1063.4 827.0L1063.7 825.5L1064.0 824.0L1064.2 823.0M1066.6 807.5L1066.7 806.7L1066.9 805.1L1067.2 803.4L1067.4 801.8L1067.6 800.2L1067.8 798.6L1068.1 796.9L1068.1 796.5M1070.5 780.9L1070.6 780.5L1070.8 779.2L1071.0 778.0L1071.3 776.5L1071.6 775.0L1071.9 773.5L1072.2 772.0L1072.5 770.5L1072.8 769.0L1073.1 767.4L1073.4 765.9L1073.8 764.4L1074.1 762.9L1074.4 761.4L1074.8 759.9L1075.1 758.3L1075.4 756.8L1075.8 755.3L1076.1 753.9L1076.4 752.4L1076.8 750.9M1080.2 735.4L1080.3 735.0L1080.7 733.5L1081.0 731.9L1081.4 730.4L1081.7 728.8L1082.1 727.3L1082.4 725.8L1082.5 725.4M1085.9 709.9L1086.0 709.7L1086.2 708.3L1086.5 707.0L1086.8 705.5L1087.1 704.0L1087.3 702.5L1087.6 701.0L1087.9 699.5L1088.0 698.9M1090.6 683.3L1090.7 683.0L1091.0 681.5L1091.3 680.0L1091.6 678.5L1092.0 677.0L1092.4 675.6L1092.8 674.2L1093.2 672.7L1093.6 671.3L1094.1 669.8L1094.6 668.4L1095.1 666.9L1095.6 665.5L1096.1 664.0L1096.6 662.5L1097.1 661.0L1097.7 659.5L1098.2 658.0L1098.7 656.6L1099.2 655.1L1099.6 653.5L1099.7 653.3M1102.8 637.8L1102.9 636.9L1103.1 635.3L1103.2 633.6L1103.4 632.0L1103.5 630.3L1103.6 628.7L1103.7 627.8M1105.2 612.3L1105.2 612.2L1105.4 611.0L1105.7 609.5L1106.1 608.0L1106.4 606.4L1106.9 604.8L1107.3 603.2L1107.7 601.6L1107.8 601.3M1112.7 585.7L1112.9 585.0L1113.4 583.5L1113.8 581.9L1114.3 580.4L1114.8 578.8L1115.2 577.3L1115.7 575.7L1116.2 574.2L1116.6 572.6L1117.1 571.1L1117.6 569.6L1118.0 568.0L1118.3 567.0L1118.6 566.0L1118.9 564.8L1119.2 563.5L1119.6 562.2L1119.9 560.8L1120.3 559.3L1120.7 557.7L1121.1 556.1L1121.2 555.7M1125.4 540.2L1125.5 540.0L1125.9 538.6L1126.3 537.2L1126.8 535.7L1127.2 534.2L1127.6 532.7L1128.1 531.2L1128.4 530.2M1133.5 514.7L1133.9 513.6L1134.5 512.3L1135.0 511.0L1135.7 509.5L1136.3 508.0L1137.1 506.4L1137.8 504.8L1138.3 503.7M1147.4 488.1L1148.0 487.5L1149.2 486.5L1150.4 485.7L1151.8 484.9L1153.2 484.3L1154.6 483.7L1156.1 483.1L1157.6 482.6L1159.1 482.1L1160.6 481.6L1162.0 481.0L1163.2 480.5L1164.6 480.0L1166.0 479.4L1167.4 478.8L1169.0 478.3L1170.5 477.7L1172.1 477.1L1173.7 476.5L1175.3 475.9L1176.9 475.2L1177.4 475.1M1192.9 469.1L1194.2 468.4L1195.5 467.7L1196.8 466.9L1198.0 466.0L1198.8 465.3L1199.6 464.6L1200.4 463.7L1201.4 462.6L1202.3 461.5L1202.5 461.3M1213.9 445.8L1214.5 444.8L1215.5 443.5L1216.3 442.3L1217.2 441.1L1218.0 440.0L1218.9 438.8L1219.8 437.5L1220.7 436.2L1221.6 434.9L1221.7 434.8M1233.0 419.2L1233.2 418.9L1234.0 418.0L1235.1 416.8L1236.3 415.6L1237.5 414.3L1238.8 413.0L1240.1 411.8L1241.4 410.5L1242.8 409.3L1244.1 408.2L1245.3 407.1L1246.5 406.2L1247.7 405.4L1248.7 404.7L1249.7 404.3L1250.5 404.0L1252.1 403.8L1253.6 403.9L1255.2 404.2L1256.8 404.7L1258.3 405.3L1259.7 406.1L1261.0 407.0L1261.6 407.5L1262.2 408.2L1262.6 408.6M1272.2 424.1L1272.8 425.3L1273.6 426.9L1274.4 428.5L1275.0 430.0L1275.6 431.4L1276.1 432.8L1276.5 434.1M1280.1 449.6L1280.3 450.9L1280.6 452.4L1280.9 454.0L1281.2 455.5L1281.5 457.0L1281.7 458.1L1281.9 459.3L1282.2 460.5L1282.2 460.6M1284.8 476.2L1285.1 477.8L1285.3 479.5L1285.6 481.2L1285.9 482.9L1286.1 484.5L1286.4 486.2L1286.6 487.7L1286.9 489.3L1287.1 490.8L1287.4 492.2L1287.6 493.5L1287.8 494.8L1288.0 496.0L1288.3 497.5L1288.5 499.0L1288.8 500.5L1289.1 502.0L1289.3 503.6L1289.6 505.1L1289.8 506.2M1292.7 521.7L1293.0 523.1L1293.2 524.5L1293.5 526.0L1293.8 527.5L1294.1 529.1L1294.4 530.6L1294.6 531.7M1297.6 547.2L1297.6 547.4L1297.9 548.9L1298.2 550.4L1298.5 551.9L1298.7 553.5L1299.0 555.0L1299.2 556.3L1299.4 557.6L1299.5 558.2M1301.9 573.8L1301.9 574.1L1302.1 575.7L1302.4 577.3L1302.6 579.0L1302.8 580.6L1303.0 582.2L1303.2 583.8L1303.4 585.3L1303.6 586.9L1303.8 588.5L1304.0 590.0L1304.2 591.4L1304.3 592.8L1304.5 594.4L1304.7 595.9L1304.8 597.6L1305.0 599.2L1305.2 600.9L1305.3 602.6L1305.4 603.8M1306.9 619.3L1306.9 619.7L1307.1 621.3L1307.2 622.7L1307.3 624.2L1307.5 625.5L1307.6 626.8L1307.7 627.9L1307.9 629.0L1307.9 629.3M1310.5 644.8L1310.5 645.0L1310.8 646.5L1311.1 648.0L1311.3 649.5L1311.6 651.0L1311.8 652.5L1312.0 654.0L1312.1 655.0L1312.2 655.8M1313.8 671.4L1313.9 672.2L1314.0 673.9L1314.2 675.6L1314.4 677.3L1314.5 679.0L1314.7 680.7L1314.9 682.4L1315.1 684.1L1315.2 685.7L1315.4 687.3L1315.6 688.9L1315.8 690.5L1316.0 692.0L1316.2 693.6L1316.4 695.2L1316.7 696.8L1316.9 698.5L1317.2 700.1L1317.4 701.4M1319.9 716.9L1320.1 718.4L1320.4 720.0L1320.7 721.4L1320.9 722.9L1321.1 724.2L1321.4 725.5L1321.6 726.8L1321.6 726.9M1324.7 742.4L1324.8 743.1L1325.1 744.6L1325.5 746.2L1325.8 747.7L1326.1 749.3L1326.4 750.9L1326.7 752.4L1326.9 753.4M1329.7 769.0L1329.8 769.9L1330.1 771.6L1330.4 773.2L1330.7 774.9L1330.9 776.5L1331.2 778.2L1331.5 779.9L1331.8 781.5L1332.1 783.2L1332.4 784.8L1332.7 786.4L1332.9 788.0L1333.2 789.6L1333.5 791.1L1333.7 792.6L1334.0 794.0L1334.3 795.5L1334.6 797.1L1334.9 798.8L1334.9 799.0M1337.7 814.5L1337.9 816.0L1338.3 817.6L1338.5 819.2L1338.8 820.8L1339.1 822.3L1339.4 823.8L1339.5 824.5M1342.8 840.0L1343.1 841.0L1343.4 842.5L1343.8 844.0L1344.2 845.5L1344.5 847.0L1344.9 848.5L1345.3 850.0L1345.5 851.0M1348.9 866.6L1348.9 866.9L1349.3 868.5L1349.6 870.1L1350.0 871.8L1350.4 873.4L1350.7 875.1L1351.1 876.8L1351.5 878.5L1351.9 880.1L1352.4 881.8L1352.8 883.4L1353.2 885.0L1353.6 886.6L1354.1 888.1L1354.5 889.6L1355.0 891.0L1355.5 892.5L1356.0 893.9L1356.5 895.4L1356.9 896.6M1363.1 912.1L1363.7 913.4L1364.3 914.8L1365.0 916.2L1365.6 917.6L1366.3 918.9L1366.9 920.2L1367.5 921.4L1367.9 922.1M1377.7 937.6L1378.3 938.5L1379.2 939.7L1380.2 940.9L1381.1 942.1L1382.1 943.2L1383.0 944.4L1384.0 945.5L1385.0 946.7L1386.0 947.8L1386.7 948.6M1402.1 963.3L1403.2 964.2L1404.4 965.2L1405.6 966.2L1406.7 967.1L1407.9 968.0L1409.0 968.8L1410.0 969.6L1411.0 970.3L1412.0 971.0L1413.3 971.9L1414.6 972.8L1416.0 973.6L1417.3 974.5L1418.7 975.3L1420.0 976.1L1421.4 976.9L1422.8 977.7L1424.2 978.4L1425.7 979.1L1427.1 979.7L1428.5 980.4L1430.0 981.0L1431.5 981.5L1432.1 981.7M1447.6 984.6L1447.8 984.6L1449.5 984.8L1451.2 984.9L1452.8 985.1L1454.4 985.2L1456.0 985.4L1457.5 985.5L1457.6 985.5M1473.1 986.8L1473.5 986.8L1475.0 986.9L1476.5 986.9L1478.0 987.0L1479.5 987.1L1481.0 987.2L1482.5 987.2L1484.0 987.3L1484.1 987.3M1499.7 988.4L1500.5 988.4L1502.0 988.5L1503.6 988.6L1505.3 988.8L1506.9 988.9L1508.6 989.0L1510.4 989.1L1512.1 989.2L1513.9 989.3L1515.7 989.5L1517.5 989.6L1519.3 989.7L1521.2 989.8L1523.0 989.9L1524.8 990.0L1526.6 990.1L1528.4 990.2L1529.7 990.3M1545.2 991.0L1546.5 991.0L1548.1 991.1L1549.6 991.1L1551.1 991.2L1552.6 991.2L1554.2 991.2L1555.2 991.2M1570.7 991.3L1571.0 991.3L1572.5 991.3L1574.0 991.3L1575.6 991.3L1577.1 991.3L1578.6 991.3L1580.1 991.3L1581.7 991.2L1581.7 991.2M1597.3 991.0L1598.5 991.0L1600.0 991.0L1600.9 991.0L1601.8 991.0L1602.7 991.0L1603.7 990.9L1604.8 990.9L1605.9 990.9L1607.0 990.9L1608.2 990.8L1609.4 990.8L1610.6 990.8L1611.9 990.7L1613.2 990.7L1614.6 990.7L1616.0 990.6L1617.4 990.6L1618.9 990.6L1620.4 990.5L1621.9 990.5L1623.4 990.4L1625.0 990.4L1626.5 990.3L1627.3 990.3M1642.8 989.9L1643.4 989.8L1645.1 989.8L1646.9 989.7L1648.6 989.7L1650.4 989.6L1652.2 989.6L1652.8 989.5M1668.3 989.1L1669.8 989.0L1671.5 988.9L1673.2 988.9L1674.9 988.8L1676.5 988.8L1678.2 988.7L1679.3 988.7M1694.9 988.2L1696.2 988.1L1697.5 988.1L1698.8 988.0L1700.0 988.0L1701.5 987.9L1703.1 987.9L1704.7 987.8L1706.3 987.8L1708.0 987.7L1709.7 987.7L1711.5 987.6L1713.2 987.6L1715.0 987.5L1716.8 987.5L1718.6 987.4L1720.4 987.3L1722.3 987.3L1724.2 987.2L1724.9 987.2M1740.4 986.7L1741.0 986.7L1742.8 986.6L1744.6 986.6L1746.5 986.5L1748.2 986.4L1750.0 986.4L1750.4 986.4M1765.9 985.8L1765.9 985.8L1767.3 985.7L1768.6 985.7L1769.8 985.6L1771.1 985.6L1772.2 985.5L1773.3 985.4L1774.3 985.4L1775.3 985.3L1776.2 985.3L1776.9 985.2M1792.5 982.7L1793.5 982.5L1795.0 982.2L1796.5 981.9L1798.0 981.6L1799.5 981.3L1801.0 981.0L1802.1 980.8L1803.3 980.6L1804.6 980.4L1806.0 980.2L1807.5 979.9L1809.1 979.7L1810.8 979.4L1812.5 979.2L1814.2 978.9L1816.0 978.6L1817.8 978.4L1819.5 978.1L1821.3 977.8L1822.5 977.7M1838.0 975.2L1839.3 974.9L1840.9 974.7L1842.4 974.4L1844.0 974.1L1845.6 973.8L1847.2 973.5L1848.0 973.4M1863.5 970.0L1865.0 969.6L1866.5 969.3L1868.0 968.9L1869.6 968.5L1871.1 968.1L1872.6 967.7L1874.1 967.3L1874.5 967.3M1890.1 964.0L1890.5 963.9L1892.0 963.7L1893.5 963.4L1895.0 963.1L1896.5 962.9L1898.0 962.6L1899.5 962.3L1901.0 962.0L1902.5 961.8L1904.0 961.5L1905.5 961.2L1907.1 961.0L1908.6 960.7L1910.2 960.4L1911.8 960.2L1913.4 959.9L1915.0 959.7L1916.6 959.4L1918.2 959.1L1919.8 958.9L1920.1 958.8M1935.6 955.2L1936.2 955.0L1937.7 954.6L1939.1 954.1L1940.5 953.7L1942.0 953.2L1943.4 952.7L1944.8 952.3L1945.6 952.0" stroke="#ff8000" stroke-width="5.5" stroke-linejoin="round" fill="none"/>
</g>
<clipPath id="cp2"><rect x="430" y="1000" width="1520" height="865.5999999999999"/></clipPath>
<g clip-path="url(#cp2)">
<path d="M430.0 1864.0C502.7 1864.0 646.4 1864.2 648.0 1864.0C649.6 1863.8 651.4 1863.9 652.8 1863.0C654.2 1862.1 658.8 1856.7 660.4 1852.8C662.0 1848.9 664.6 1822.7 666.0 1807.5C667.4 1792.3 668.6 1762.2 669.8 1739.6C671.0 1717.0 672.4 1689.3 673.6 1664.2C674.8 1639.1 676.3 1611.3 677.4 1584.9C678.5 1558.5 679.1 1529.6 680.0 1505.7C680.9 1481.8 682.1 1454.1 683.0 1434.0C683.9 1413.9 685.0 1393.7 686.0 1373.6C687.0 1353.5 688.5 1330.8 689.4 1309.4C690.3 1288.0 690.9 1264.2 691.7 1245.3C692.5 1226.4 693.6 1207.6 694.3 1188.7C695.0 1169.8 695.6 1147.1 696.2 1132.0C696.8 1116.9 697.4 1094.4 698.1 1086.8C698.8 1079.2 700.2 1067.6 701.1 1064.0C702.0 1060.4 704.9 1053.5 704.9 1053.5C704.9 1053.5 707.9 1061.7 708.7 1066.0C709.5 1070.3 711.4 1092.5 712.5 1105.7C713.6 1118.9 715.7 1150.9 717.0 1169.8C718.3 1188.7 719.7 1207.5 720.8 1226.4C721.9 1245.3 722.8 1264.1 723.8 1283.0C724.8 1301.9 726.3 1333.3 727.5 1358.5C728.7 1383.7 730.0 1408.9 731.3 1434.0C732.6 1459.1 733.8 1486.7 735.1 1509.4C736.4 1532.1 737.9 1556.0 739.6 1577.4C741.3 1598.8 743.6 1625.1 745.3 1641.5C747.0 1657.9 748.7 1674.3 750.9 1690.6C753.1 1706.9 756.3 1727.0 758.5 1739.6C760.7 1752.2 763.5 1768.0 766.0 1777.4C768.5 1786.8 771.9 1797.5 775.5 1805.0C779.1 1812.5 784.0 1820.3 788.7 1826.0C793.4 1831.7 801.1 1838.3 805.0 1841.2C808.9 1844.1 813.4 1846.2 817.6 1848.7C821.8 1851.2 826.1 1854.5 830.1 1856.3C834.1 1858.1 838.6 1859.2 842.7 1860.0C846.8 1860.8 851.0 1861.0 855.2 1861.3C859.4 1861.6 871.9 1862.3 880.3 1862.5C888.7 1862.7 997.2 1863.1 1005.6 1862.5C1014.0 1861.9 1022.3 1860.2 1030.6 1858.8C1038.9 1857.4 1047.4 1855.7 1055.7 1853.8C1064.0 1851.9 1072.5 1849.6 1080.8 1847.5C1089.1 1845.4 1097.5 1843.5 1105.8 1841.2C1114.1 1838.9 1124.6 1835.2 1130.9 1833.7C1137.2 1832.2 1143.7 1831.7 1150.0 1830.0C1156.3 1828.3 1167.2 1823.5 1175.7 1820.7C1184.2 1817.9 1192.8 1815.6 1201.4 1813.0C1210.0 1810.4 1218.6 1807.9 1227.1 1805.3C1235.6 1802.7 1244.2 1800.2 1252.7 1797.6C1261.2 1795.0 1269.9 1792.0 1278.4 1789.9C1286.9 1787.8 1295.5 1786.5 1304.1 1784.8C1312.7 1783.1 1321.3 1781.1 1329.8 1779.6C1338.3 1778.1 1349.5 1776.8 1355.5 1775.8C1361.5 1774.8 1367.4 1773.2 1373.5 1772.7C1379.6 1772.2 1400.8 1772.2 1406.9 1772.7C1413.0 1773.2 1419.3 1773.4 1424.9 1775.8C1430.5 1778.2 1435.7 1782.9 1440.3 1787.3C1444.9 1791.7 1449.0 1798.2 1453.1 1802.7C1457.2 1807.2 1461.7 1811.3 1466.0 1815.6C1470.3 1819.9 1474.9 1825.6 1478.8 1828.4C1482.7 1831.2 1487.5 1832.5 1491.6 1834.9C1495.7 1837.3 1499.8 1841.6 1504.5 1843.8C1509.2 1846.0 1516.4 1847.8 1522.5 1849.0C1528.6 1850.2 1540.8 1851.0 1550.0 1851.5C1559.2 1852.0 1625.1 1852.3 1640.0 1852.5C1654.9 1852.7 1669.8 1853.5 1684.7 1853.5C1699.6 1853.5 1739.1 1852.8 1766.3 1852.0C1793.5 1851.2 1858.7 1848.5 1882.0 1847.4C1905.3 1846.3 1928.7 1844.7 1952.0 1843.4" stroke="#000000" stroke-width="7" fill="none" stroke-linejoin="round"/>
<path d="M430.0 1865.5L431.5 1865.5L433.0 1865.5L434.6 1865.5L436.1 1865.5L437.7 1865.5L439.2 1865.5L440.8 1865.5L442.4 1865.5L444.0 1865.5L445.6 1865.5L447.2 1865.5L448.9 1865.5L450.5 1865.5L450.9 1865.5M483.9 1865.6L485.2 1865.6L487.0 1865.6L488.8 1865.6L490.6 1865.6L492.5 1865.7L494.3 1865.7L496.2 1865.7L498.0 1865.7L499.9 1865.7L501.7 1865.7L503.6 1865.7L505.5 1865.7L507.4 1865.7L509.3 1865.7L511.2 1865.7L513.1 1865.7L515.0 1865.8L516.4 1865.8M549.4 1865.9L549.9 1865.9L551.9 1865.9L553.9 1866.0L555.8 1866.0L557.8 1866.0L559.8 1866.0L561.8 1866.0L563.7 1866.0L565.7 1866.0L567.7 1866.0L569.7 1866.0L571.7 1866.0L573.6 1866.1L575.6 1866.1L577.6 1866.1L579.6 1866.1L581.6 1866.1L581.9 1866.1M614.9 1866.3L615.2 1866.3L617.1 1866.3L619.1 1866.3L621.1 1866.3L623.0 1866.3L625.0 1866.3L626.9 1866.3L628.8 1866.4L630.8 1866.4L632.7 1866.4L634.6 1866.4L636.6 1866.4L638.5 1866.4L640.4 1866.4L642.3 1866.4L644.2 1866.4L646.1 1866.4L647.4 1866.4M680.4 1866.6L681.2 1866.6L683.0 1866.6L684.8 1866.6L686.5 1866.6L688.3 1866.6L690.1 1866.6L691.8 1866.6L693.5 1866.6L695.2 1866.6L697.0 1866.6L698.7 1866.6L700.4 1866.6L702.1 1866.6L703.7 1866.7L705.4 1866.7L707.1 1866.7L708.7 1866.7L710.3 1866.7L712.0 1866.7L712.9 1866.7M745.9 1866.7L746.4 1866.7L747.7 1866.7L749.0 1866.7L750.4 1866.7L751.7 1866.6L753.0 1866.6L754.2 1866.6L755.5 1866.6L756.7 1866.6L758.0 1866.6L759.2 1866.6L760.4 1866.6L761.6 1866.6L762.8 1866.6L763.9 1866.6L765.1 1866.6L766.2 1866.6L767.3 1866.6L768.4 1866.6L769.5 1866.5L770.5 1866.5L771.6 1866.5L772.6 1866.5L773.6 1866.5L774.6 1866.5L775.6 1866.5L776.6 1866.5L777.5 1866.5L778.4 1866.4M807.7 1854.7L808.2 1853.8L809.1 1852.5L810.0 1851.3L811.1 1850.2L812.3 1849.1L813.5 1848.0L814.8 1847.0L816.1 1846.0L817.4 1845.0L818.7 1844.1L820.0 1843.1L821.3 1842.2L822.6 1841.2L823.9 1840.2L825.3 1839.2L826.8 1838.2L828.3 1837.1L829.7 1836.1L831.1 1835.1L832.5 1834.2L833.8 1833.4L835.0 1832.6L836.0 1832.0L837.4 1831.2L838.8 1830.4L839.1 1830.2M872.1 1825.6L872.7 1825.6L874.4 1825.7L876.1 1825.9L877.7 1826.2L878.6 1826.4L879.6 1826.7L880.7 1827.1L881.9 1827.6L883.3 1828.2L884.7 1828.8L886.2 1829.4L887.8 1830.1L889.4 1830.9L891.0 1831.7L892.7 1832.4L894.4 1833.2L896.0 1834.0L897.6 1834.8L899.2 1835.6L900.7 1836.4L902.1 1837.1L903.5 1837.8L904.6 1838.4M937.6 1855.4L939.0 1855.8L940.4 1856.3L941.2 1856.5L942.1 1856.8L943.2 1857.1L944.4 1857.5L945.8 1857.8L947.2 1858.2L948.7 1858.6L950.3 1859.0L951.9 1859.4L953.6 1859.9L955.3 1860.3L957.1 1860.7L958.8 1861.1L960.6 1861.5L962.3 1861.9L964.0 1862.2L965.7 1862.6L967.3 1862.9L968.9 1863.2L970.1 1863.4M1003.1 1864.0L1003.3 1864.0L1004.0 1864.0L1004.8 1864.0L1005.7 1864.0L1006.6 1864.0L1007.5 1864.0L1008.5 1864.0L1009.6 1864.0L1010.7 1864.0L1011.9 1864.0L1013.1 1864.0L1014.4 1864.0L1015.7 1864.0L1017.0 1864.0L1018.4 1864.0L1019.9 1864.0L1021.3 1864.0L1022.9 1864.0L1024.4 1864.0L1026.0 1864.0L1027.7 1864.0L1029.3 1864.0L1031.1 1864.0L1032.8 1864.1L1034.6 1864.1L1035.6 1864.1M1068.6 1864.1L1070.5 1864.1L1072.6 1864.1L1074.8 1864.1L1076.9 1864.1L1079.1 1864.1L1081.2 1864.1L1083.4 1864.1L1085.5 1864.1L1087.7 1864.1L1089.9 1864.1L1092.0 1864.1L1094.2 1864.1L1096.3 1864.1L1098.4 1864.1L1100.6 1864.1L1101.1 1864.1M1134.1 1864.1L1134.2 1864.1L1136.0 1864.0L1137.7 1864.0L1139.4 1864.0L1141.1 1864.0L1142.7 1864.0L1144.3 1864.0L1145.9 1864.0L1147.4 1864.0L1148.8 1864.0L1150.3 1864.0L1151.7 1864.0L1153.0 1864.0L1154.3 1864.0L1155.5 1864.0L1156.7 1864.0L1157.9 1864.0L1159.0 1864.0L1160.0 1863.9L1161.0 1863.9L1162.0 1863.9L1162.8 1863.9L1163.7 1863.9L1164.4 1863.9L1165.1 1863.9L1165.8 1863.9L1166.4 1863.9L1166.6 1863.9M1199.6 1860.2L1199.7 1860.2L1201.4 1860.1L1203.3 1860.0L1205.1 1859.9L1207.0 1859.8L1208.9 1859.7L1210.8 1859.6L1212.7 1859.6L1214.6 1859.5L1216.5 1859.4L1218.3 1859.3L1220.1 1859.2L1221.9 1859.0L1223.7 1858.9L1225.3 1858.8L1227.0 1858.7L1228.5 1858.6L1230.0 1858.5L1231.3 1858.4L1232.1 1858.3M1265.1 1851.9L1265.4 1851.8L1266.9 1851.6L1268.4 1851.4L1269.9 1851.2L1271.5 1851.0L1273.0 1850.8L1274.5 1850.6L1276.1 1850.4L1277.6 1850.3L1279.1 1850.1L1280.6 1850.0L1282.2 1849.9L1283.7 1849.7L1285.2 1849.6L1286.8 1849.4L1288.3 1849.3L1289.8 1849.1L1291.4 1849.0L1292.9 1848.8L1294.4 1848.6L1296.0 1848.4L1297.5 1848.2L1297.6 1848.2M1330.6 1841.8L1330.9 1841.8L1332.3 1841.5L1333.7 1841.3L1335.2 1841.1L1336.8 1840.9L1338.3 1840.7L1339.8 1840.5L1341.4 1840.3L1342.9 1840.1L1344.5 1840.0L1346.0 1839.8L1347.6 1839.7L1349.1 1839.5L1350.7 1839.4L1352.2 1839.2L1353.7 1839.1L1355.3 1839.0L1356.8 1838.8L1358.3 1838.7L1359.8 1838.6L1361.3 1838.4L1362.8 1838.3L1363.1 1838.3M1396.1 1834.9L1396.6 1834.9L1398.1 1834.8L1399.6 1834.7L1401.1 1834.7L1402.6 1834.6L1404.1 1834.5L1405.6 1834.5L1407.1 1834.4L1408.7 1834.4L1410.2 1834.3L1411.7 1834.3L1413.3 1834.3L1414.8 1834.2L1416.4 1834.2L1417.9 1834.2L1419.5 1834.2L1421.0 1834.1L1422.5 1834.1L1424.1 1834.1L1425.6 1834.1L1427.2 1834.0L1428.6 1834.0M1461.6 1833.6L1461.9 1833.6L1463.4 1833.6L1464.9 1833.6L1466.5 1833.6L1468.0 1833.6L1469.5 1833.6L1471.1 1833.6L1472.6 1833.6L1474.2 1833.6L1475.8 1833.6L1477.3 1833.6L1478.9 1833.6L1480.4 1833.6L1482.0 1833.6L1483.5 1833.6L1485.0 1833.6L1486.6 1833.6L1488.1 1833.6L1489.6 1833.6L1491.0 1833.6L1492.5 1833.6L1494.0 1833.6L1494.1 1833.6M1527.1 1833.6L1527.6 1833.6L1529.1 1833.6L1530.6 1833.6L1532.1 1833.6L1533.6 1833.6L1535.1 1833.6L1536.6 1833.6L1538.2 1833.6L1539.7 1833.6L1541.3 1833.6L1542.8 1833.6L1544.4 1833.7L1546.0 1833.7L1547.5 1833.7L1549.1 1833.7L1550.7 1833.8L1552.2 1833.8L1553.8 1833.9L1555.4 1833.9L1556.9 1834.0L1558.5 1834.1L1559.6 1834.2M1592.6 1838.2L1592.6 1838.2L1594.1 1838.3L1595.6 1838.5L1597.1 1838.6L1598.7 1838.7L1600.3 1838.9L1601.8 1839.0L1603.4 1839.1L1605.0 1839.2L1606.6 1839.3L1608.2 1839.4L1609.8 1839.5L1611.4 1839.6L1613.0 1839.7L1614.6 1839.8L1616.2 1839.9L1617.8 1840.0L1619.3 1840.2L1620.8 1840.3L1622.4 1840.4L1623.9 1840.5L1625.1 1840.6M1658.1 1844.7L1658.4 1844.7L1659.9 1844.9L1661.4 1845.0L1662.9 1845.2L1664.4 1845.3L1665.9 1845.5L1667.4 1845.6L1668.9 1845.7L1670.4 1845.9L1671.9 1846.0L1673.4 1846.2L1674.9 1846.3L1676.4 1846.4L1677.9 1846.5L1679.5 1846.7L1681.0 1846.8L1682.5 1846.9L1684.0 1847.0L1685.5 1847.1L1687.0 1847.2L1688.5 1847.3L1690.0 1847.4L1690.6 1847.4M1723.6 1848.7L1724.2 1848.7L1725.7 1848.7L1727.2 1848.7L1728.7 1848.7L1730.2 1848.7L1731.7 1848.7L1733.2 1848.7L1734.7 1848.7L1736.2 1848.7L1737.7 1848.7L1739.2 1848.6L1740.8 1848.6L1742.3 1848.6L1743.8 1848.6L1745.3 1848.6L1746.8 1848.6L1748.3 1848.6L1749.8 1848.6L1751.3 1848.6L1752.8 1848.6L1754.3 1848.6L1755.8 1848.7L1756.1 1848.7M1789.1 1851.3L1790.0 1851.3L1791.5 1851.4L1793.0 1851.4L1794.5 1851.4L1796.0 1851.5L1797.5 1851.5L1799.0 1851.5L1800.5 1851.5L1802.0 1851.5L1803.5 1851.5L1805.0 1851.5L1806.6 1851.5L1808.1 1851.5L1809.6 1851.5L1811.1 1851.5L1812.6 1851.5L1814.1 1851.4L1815.6 1851.4L1817.1 1851.4L1818.6 1851.4L1820.1 1851.3L1821.6 1851.3M1854.6 1850.0L1854.7 1850.0L1856.2 1850.0L1857.7 1849.9L1859.2 1849.9L1860.7 1849.9L1862.2 1849.9L1863.7 1849.9L1865.2 1850.0L1866.7 1850.0L1868.2 1850.0L1869.7 1850.0L1871.2 1850.0L1872.7 1850.0L1874.2 1850.0L1875.7 1850.0L1877.2 1850.1L1878.7 1850.1L1880.2 1850.1L1881.7 1850.0L1883.2 1850.0L1884.7 1850.0L1886.1 1850.0L1887.1 1849.9M1920.1 1848.7L1920.4 1848.7L1921.9 1848.7L1923.4 1848.6L1924.9 1848.6L1926.4 1848.6L1927.9 1848.6L1929.4 1848.6L1930.9 1848.6L1932.4 1848.6L1933.9 1848.6L1935.4 1848.6L1937.0 1848.6L1938.5 1848.6L1940.0 1848.6L1941.5 1848.7L1943.0 1848.7L1944.5 1848.7L1946.0 1848.7L1947.5 1848.7L1949.0 1848.7L1950.5 1848.7L1952.0 1848.7" stroke="#ff0000" stroke-width="6" stroke-linejoin="round" fill="none"/>
<path d="M449.2 1864.5h0.01M480.6 1864.6h0.01M512.0 1864.6h0.01M543.4 1864.7h0.01M574.8 1864.8h0.01M606.2 1864.9h0.01M637.6 1865.0h0.01M669.0 1865.1h0.01M700.4 1865.1h0.01M731.8 1865.2h0.01M763.2 1865.1h0.01M794.6 1864.9h0.01M820.5 1845.6h0.01M831.3 1814.2h0.01M836.8 1782.8h0.01M842.1 1751.4h0.01M845.7 1720.0h0.01M848.2 1688.6h0.01M850.7 1657.2h0.01M855.2 1625.8h0.01M857.7 1594.4h0.01M859.6 1563.0h0.01M863.2 1531.6h0.01M865.2 1500.2h0.01M869.6 1468.8h0.01M873.9 1437.4h0.01M879.9 1406.0h0.01" stroke="#008000" stroke-width="19" stroke-linecap="round" fill="none"/>
<path d="M898.9 1401.0h0.01M906.8 1432.4h0.01M912.8 1463.8h0.01M920.6 1495.2h0.01M925.1 1526.6h0.01M930.4 1558.0h0.01M938.4 1589.4h0.01M943.2 1620.8h0.01M950.7 1652.2h0.01M958.8 1683.6h0.01M969.1 1715.0h0.01M981.3 1746.4h0.01M999.3 1777.8h0.01M1029.6 1806.6h0.01M1061.0 1824.6h0.01M1092.4 1833.5h0.01M1123.8 1839.1h0.01M1155.2 1838.7h0.01M1186.6 1838.6h0.01M1218.0 1836.9h0.01M1249.4 1833.1h0.01M1280.8 1829.1h0.01M1312.2 1824.8h0.01M1343.6 1816.8h0.01M1375.0 1806.7h0.01M1406.4 1797.1h0.01M1437.8 1784.2h0.01M1469.2 1774.9h0.01M1500.6 1771.4h0.01M1532.0 1771.5h0.01M1563.4 1780.4h0.01M1594.8 1792.0h0.01M1626.2 1812.1h0.01M1657.6 1831.3h0.01M1689.0 1843.2h0.01M1720.4 1844.9h0.01M1751.8 1844.4h0.01M1783.2 1842.1h0.01M1814.6 1843.3h0.01M1846.0 1841.8h0.01M1877.4 1840.8h0.01M1908.8 1840.3h0.01M1940.2 1836.2h0.01" stroke="#008000" stroke-width="19" stroke-linecap="round" fill="none"/>
<path d="M430.0 1865.5L431.5 1865.5L433.0 1865.5L434.6 1865.5L436.1 1865.5L437.6 1865.5L439.2 1865.5L440.8 1865.5L442.3 1865.5L443.9 1865.5L445.5 1865.5L447.1 1865.5L448.7 1865.5L450.4 1865.5L452.0 1865.5L453.6 1865.5L455.3 1865.5L456.9 1865.5L458.6 1865.5L460.3 1865.5L461.9 1865.5L463.6 1865.5L465.3 1865.5L466.1 1865.5M483.1 1865.5L484.5 1865.5L486.3 1865.5L488.1 1865.5L489.9 1865.5L490.1 1865.5M508.5 1865.5L510.0 1865.5L511.9 1865.5L513.8 1865.5L515.7 1865.5L517.5 1865.6L519.4 1865.6L521.3 1865.6L523.2 1865.6L525.1 1865.6L527.0 1865.6L528.9 1865.6L530.8 1865.6L532.8 1865.6L534.7 1865.6L536.6 1865.6L538.5 1865.6L540.5 1865.6L542.4 1865.6L544.3 1865.6L546.3 1865.6L548.2 1865.6L548.5 1865.6M565.5 1865.7L565.8 1865.7L567.8 1865.7L569.8 1865.7L571.8 1865.7L572.5 1865.7M590.9 1865.8L591.6 1865.8L593.5 1865.8L595.5 1865.8L597.5 1865.8L599.5 1865.8L601.5 1865.8L603.5 1865.8L605.5 1865.8L607.4 1865.8L609.4 1865.8L611.4 1865.8L613.4 1865.9L615.4 1865.9L617.4 1865.9L619.4 1865.9L621.3 1865.9L623.3 1865.9L625.3 1865.9L627.3 1865.9L629.3 1865.9L630.9 1865.9M647.9 1866.0L648.9 1866.0L650.9 1866.0L652.8 1866.0L654.8 1866.0L654.9 1866.0M673.3 1866.0L674.1 1866.0L676.0 1866.1L677.9 1866.1L679.8 1866.1L681.7 1866.1L683.6 1866.1L685.5 1866.1L687.4 1866.1L689.3 1866.1L691.1 1866.1L693.0 1866.1L694.9 1866.1L696.7 1866.1L698.6 1866.1L700.4 1866.1L702.3 1866.1L704.1 1866.1L706.0 1866.1L707.8 1866.1L709.6 1866.1L711.4 1866.1L713.2 1866.1L713.3 1866.1M730.3 1866.2L730.9 1866.2L732.7 1866.2L734.4 1866.2L736.1 1866.2L737.3 1866.2M755.7 1866.2L756.1 1866.2L757.7 1866.2L759.3 1866.2L760.9 1866.2L762.5 1866.2L764.1 1866.2L765.6 1866.1L767.2 1866.1L768.7 1866.1L770.3 1866.1L771.8 1866.1L773.3 1866.1L774.8 1866.1L776.3 1866.1L777.8 1866.1L779.2 1866.1L780.7 1866.1L782.2 1866.1L783.6 1866.1L785.0 1866.1L786.4 1866.1L787.9 1866.1L789.3 1866.1L790.6 1866.1L792.0 1866.1L793.4 1866.1L794.7 1866.1L795.7 1866.1M812.7 1865.9L813.5 1865.9L814.6 1865.9L815.8 1865.9L816.9 1865.9L818.0 1865.9L819.1 1865.9L819.7 1865.9M838.1 1865.5L838.6 1865.5L839.3 1865.5L840.1 1865.5L840.8 1865.5L841.5 1865.5L842.2 1865.4L842.9 1865.4L843.5 1865.4L844.2 1865.4L844.8 1865.3L845.4 1865.3L846.0 1865.3L846.6 1865.3L847.1 1865.3L847.7 1865.2L848.2 1865.2L848.7 1865.2L849.2 1865.2L849.6 1865.1L850.1 1865.1L850.5 1865.1L850.9 1865.1L851.3 1865.0L851.7 1865.0L852.0 1865.0L852.4 1864.9L852.7 1864.9L853.0 1864.9L853.3 1864.9L853.5 1864.8L853.8 1864.8L854.0 1864.8L854.2 1864.7L854.3 1864.7L854.5 1864.7L854.6 1864.6L854.8 1864.6L854.9 1864.6L854.9 1864.5L855.0 1864.5L856.1 1863.5L857.0 1862.4L857.7 1861.1L858.2 1859.7L858.6 1858.2L858.9 1856.6L859.1 1855.0L859.3 1853.4L859.6 1851.8L859.8 1850.2L860.2 1848.7L860.5 1847.7L860.8 1846.6L861.1 1845.3L861.4 1843.9L861.7 1842.4L861.9 1841.5M865.7 1824.5L865.9 1823.8L866.2 1822.5L866.5 1821.2L866.9 1819.7L867.3 1818.1L867.4 1817.5M872.2 1799.1L872.4 1798.4L872.8 1796.9L873.2 1795.3L873.6 1793.7L874.0 1792.2L874.4 1790.6L874.8 1789.0L875.2 1787.4L875.6 1785.9L875.9 1784.3L876.2 1782.7L876.5 1781.1L876.7 1780.0L876.8 1778.6L877.0 1777.2L877.2 1775.7L877.3 1774.0L877.5 1772.3L877.6 1770.6L877.8 1768.8L877.9 1766.9L878.0 1765.2L878.2 1763.4L878.3 1761.7L878.4 1760.0L878.5 1759.1M880.8 1742.1L881.0 1740.5L881.3 1738.8L881.5 1737.2L881.6 1736.4L881.7 1735.5L881.8 1735.1M883.7 1716.7L883.7 1716.1L883.9 1714.3L884.1 1712.4L884.3 1710.7L884.5 1709.0L884.6 1707.4L884.8 1705.8L884.9 1704.4L885.1 1703.1L885.2 1701.9L885.3 1700.9L885.5 1699.4L885.6 1697.9L885.8 1696.4L886.0 1694.9L886.1 1693.4L886.3 1691.8L886.5 1690.3L886.6 1688.8L886.8 1687.3L887.0 1685.8L887.1 1684.3L887.3 1682.8L887.5 1681.3L887.6 1679.8L887.8 1678.3L888.0 1676.8L888.0 1676.7M889.8 1659.7L889.9 1658.8L890.1 1657.3L890.3 1655.8L890.5 1654.6L890.7 1653.4L890.8 1652.7M893.9 1634.3L894.1 1633.2L894.4 1631.6L894.6 1630.1L894.9 1628.6L895.1 1627.1L895.3 1625.7L895.5 1624.2L895.7 1622.6L896.0 1621.1L896.2 1619.5L896.4 1618.0L896.6 1616.4L896.8 1614.9L897.0 1613.3L897.2 1611.7L897.4 1610.2L897.6 1608.7L897.8 1607.1L898.0 1605.6L898.2 1604.1L898.4 1602.6L898.6 1601.1L898.8 1599.6L899.0 1598.1L899.2 1596.6L899.4 1595.0L899.5 1594.3M902.0 1577.3L902.1 1576.4L902.4 1574.9L902.6 1573.3L902.8 1571.8L903.0 1570.4L903.0 1570.3M905.5 1551.9L905.6 1550.7L905.8 1549.2L906.0 1547.6L906.2 1546.1L906.4 1544.5L906.6 1543.0L906.8 1541.5L907.0 1540.1L907.1 1538.5L907.3 1537.0L907.5 1535.4L907.7 1533.9L907.9 1532.3L908.0 1530.7L908.2 1529.1L908.4 1527.5L908.6 1525.9L908.8 1524.4L908.9 1522.8L909.1 1521.3L909.3 1519.8L909.5 1518.3L909.7 1516.9L909.9 1515.5L910.1 1514.2L910.3 1512.9L910.5 1511.9M913.8 1494.9L914.1 1493.7L914.4 1492.2L914.7 1490.7L915.0 1489.3L915.3 1487.9M918.5 1469.5L918.8 1468.4L919.1 1467.0L919.4 1465.8L919.7 1464.6L920.1 1463.6L920.4 1462.8L921.1 1461.3L921.7 1459.6L922.5 1457.9L923.3 1456.3L924.2 1454.7L925.2 1453.4L926.3 1452.4L927.6 1451.7L929.1 1451.5L930.2 1451.7L931.2 1452.2L932.2 1453.0L933.2 1454.1L934.1 1455.3L935.0 1456.7L935.9 1458.2L936.7 1459.9L937.5 1461.5L938.3 1463.2L939.0 1464.8L939.7 1466.4L940.4 1467.8L940.9 1469.0L941.3 1469.9M946.5 1486.9L946.5 1487.0L947.0 1488.5L947.4 1490.1L947.9 1491.6L948.3 1492.9L948.7 1493.9M955.1 1512.3L955.5 1513.4L955.9 1514.9L956.3 1516.4L956.7 1517.9L957.0 1519.3L957.3 1520.7L957.6 1522.2L957.9 1523.7L958.2 1525.2L958.4 1526.8L958.7 1528.4L958.9 1529.9L959.2 1531.6L959.4 1533.2L959.6 1534.8L959.8 1536.4L960.0 1537.9L960.3 1539.5L960.5 1541.0L960.7 1542.5L961.0 1544.0L961.2 1545.4L961.4 1546.7L961.7 1548.0L962.0 1549.5L962.3 1551.0L962.6 1552.3M967.0 1569.3L967.2 1570.1L967.6 1571.5L968.0 1573.0L968.4 1574.5L968.8 1575.9L968.9 1576.3M974.5 1594.7L974.6 1595.1L975.1 1596.6L975.5 1598.1L975.9 1599.4L976.3 1600.8L976.7 1602.2L977.1 1603.6L977.5 1605.0L977.9 1606.4L978.3 1607.9L978.7 1609.4L979.1 1610.8L979.5 1612.3L979.9 1613.8L980.3 1615.3L980.7 1616.8L981.1 1618.3L981.5 1619.8L981.9 1621.3L982.3 1622.8L982.6 1624.2L983.0 1625.7L983.3 1627.1L983.7 1628.6L984.0 1630.1L984.3 1631.6L984.6 1633.1L984.9 1634.7L984.9 1634.7M988.3 1651.7L988.3 1651.7L988.6 1653.1L989.0 1654.5L989.3 1655.8L989.7 1657.3L990.2 1658.7M996.7 1677.1L997.0 1677.9L997.5 1679.3L998.0 1680.8L998.4 1682.0L998.8 1683.3L999.3 1684.6L999.7 1686.0L1000.2 1687.4L1000.7 1688.9L1001.2 1690.4L1001.7 1691.9L1002.2 1693.4L1002.7 1694.9L1003.2 1696.4L1003.7 1698.0L1004.2 1699.5L1004.7 1701.0L1005.2 1702.5L1005.7 1704.0L1006.2 1705.5L1006.7 1706.9L1007.2 1708.3L1007.6 1709.6L1008.1 1710.9L1008.6 1712.4L1009.1 1713.8L1009.7 1715.3L1010.2 1716.8L1010.3 1717.1M1016.7 1734.1L1016.8 1734.4L1017.4 1735.8L1018.1 1737.2L1018.7 1738.5L1019.4 1739.8L1020.0 1741.1M1030.6 1759.5L1031.2 1760.4L1031.8 1761.5L1032.5 1762.5L1033.1 1763.5L1033.9 1764.8L1034.8 1766.1L1035.6 1767.4L1036.5 1768.7L1037.4 1770.0L1038.3 1771.3L1039.1 1772.6L1040.0 1773.8L1041.0 1775.1L1041.9 1776.3L1042.8 1777.5L1043.8 1778.7L1044.7 1779.9L1045.7 1781.1L1046.7 1782.2L1047.7 1783.4L1048.7 1784.5L1049.7 1785.6L1050.8 1786.7L1051.9 1787.8L1052.9 1788.9L1054.0 1789.9L1055.1 1791.0L1056.2 1792.0L1057.3 1793.1L1058.4 1794.1L1059.6 1795.1L1060.7 1796.1L1061.6 1796.9L1062.5 1797.7L1063.5 1798.6L1063.6 1798.6M1080.6 1811.9L1081.0 1812.2L1082.2 1813.0L1083.3 1813.7L1084.6 1814.5L1086.0 1815.2L1087.3 1816.0L1087.6 1816.1M1106.0 1823.8L1107.2 1824.1L1108.6 1824.5L1110.0 1824.9L1111.5 1825.3L1113.0 1825.6L1114.4 1826.0L1115.9 1826.3L1117.4 1826.6L1118.9 1826.9L1120.4 1827.2L1121.9 1827.4L1123.5 1827.7L1125.0 1827.9L1126.5 1828.1L1128.0 1828.3L1129.4 1828.5L1130.9 1828.7L1132.5 1828.9L1134.1 1829.0L1135.7 1829.1L1137.3 1829.1L1138.9 1829.1L1140.6 1829.2L1142.2 1829.2L1143.9 1829.2L1145.5 1829.2L1146.0 1829.2M1163.0 1832.6L1163.1 1832.6L1164.5 1833.3L1165.9 1834.0L1167.3 1834.7L1168.7 1835.4L1170.0 1835.9M1188.4 1839.1L1188.6 1839.1L1190.2 1839.2L1191.8 1839.2L1193.5 1839.3L1195.2 1839.3L1196.9 1839.4L1198.7 1839.5L1200.5 1839.5L1202.3 1839.5L1204.1 1839.6L1205.9 1839.6L1207.7 1839.7L1209.5 1839.7L1211.2 1839.7L1213.0 1839.8L1214.7 1839.8L1216.4 1839.8L1218.1 1839.8L1219.7 1839.9L1221.3 1839.9L1222.8 1839.9L1224.3 1840.0L1225.7 1840.0L1227.0 1840.0L1228.4 1840.0M1245.4 1840.2L1245.9 1840.2L1247.4 1840.2L1249.0 1840.2L1250.6 1840.2L1252.2 1840.2L1252.4 1840.2M1270.8 1840.0L1272.2 1840.0L1273.8 1839.9L1275.4 1839.9L1277.0 1839.9L1278.6 1839.9L1280.2 1839.8L1281.9 1839.8L1283.5 1839.8L1285.2 1839.8L1286.9 1839.7L1288.5 1839.7L1290.1 1839.6L1291.7 1839.6L1293.3 1839.5L1294.9 1839.5L1296.4 1839.4L1297.9 1839.4L1299.3 1839.3L1300.7 1839.2L1302.0 1839.1L1303.3 1839.0L1304.5 1838.9L1305.6 1838.8L1306.7 1838.7L1308.2 1838.5L1309.8 1838.3L1310.8 1838.1M1327.8 1834.3L1328.0 1834.3L1329.5 1833.9L1331.0 1833.6L1332.5 1833.3L1334.0 1833.0L1334.8 1832.8M1353.2 1828.9L1354.0 1828.7L1355.5 1828.4L1356.6 1828.1L1357.8 1827.9L1359.1 1827.6L1360.5 1827.2L1362.0 1826.9L1363.6 1826.5L1365.2 1826.1L1366.9 1825.7L1368.6 1825.2L1370.4 1824.8L1372.2 1824.4L1374.0 1823.9L1375.7 1823.5L1377.5 1823.0L1379.2 1822.6L1380.9 1822.2L1382.5 1821.8L1384.1 1821.4L1385.6 1821.0L1387.0 1820.6L1388.3 1820.3L1389.5 1819.9L1390.6 1819.7L1391.5 1819.4L1393.0 1819.0L1393.2 1818.9M1410.2 1813.6L1410.5 1813.5L1412.0 1813.0L1413.2 1812.6L1414.5 1812.1L1415.8 1811.7L1417.2 1811.2M1435.6 1804.3L1436.4 1804.0L1437.4 1803.6L1438.5 1803.2L1439.8 1802.7L1441.1 1802.2L1442.5 1801.7L1444.0 1801.1L1445.6 1800.5L1447.2 1799.9L1448.9 1799.3L1450.6 1798.7L1452.3 1798.0L1454.1 1797.4L1455.8 1796.7L1457.5 1796.0L1459.2 1795.4L1460.9 1794.8L1462.6 1794.1L1464.2 1793.5L1465.7 1793.0L1467.1 1792.4L1468.5 1791.9L1469.7 1791.4L1470.9 1791.0L1471.9 1790.6L1472.8 1790.3L1473.6 1790.0L1475.1 1789.4L1475.6 1789.3M1492.6 1783.2L1492.7 1783.2L1493.9 1782.8L1495.2 1782.3L1496.6 1781.9L1498.2 1781.4L1499.6 1780.9M1518.0 1776.1L1518.6 1776.0L1520.1 1775.8L1521.6 1775.7L1523.2 1775.6L1524.7 1775.6L1526.2 1775.6L1527.8 1775.6L1529.3 1775.6L1530.8 1775.7L1532.4 1775.8L1533.9 1775.9L1535.4 1776.0L1536.9 1776.1L1538.5 1776.2L1540.0 1776.3L1540.9 1776.4L1541.9 1776.5L1543.1 1776.6L1544.3 1776.7L1545.7 1776.9L1547.2 1777.0L1548.7 1777.2L1550.3 1777.4L1552.0 1777.6L1553.7 1777.8L1555.5 1778.0L1557.3 1778.3L1558.0 1778.4M1575.0 1780.8L1575.9 1781.0L1577.2 1781.2L1578.4 1781.4L1579.5 1781.6L1581.0 1781.9L1582.0 1782.1M1600.4 1786.5L1601.5 1786.9L1602.9 1787.3L1604.4 1787.7L1605.8 1788.2L1607.2 1788.7L1608.7 1789.2L1610.1 1789.7L1611.6 1790.2L1613.1 1790.7L1614.6 1791.2L1616.0 1791.8L1617.5 1792.3L1619.0 1792.9L1620.5 1793.5L1622.0 1794.1L1623.4 1794.7L1624.9 1795.4L1626.4 1796.0L1627.8 1796.7L1629.3 1797.3L1630.7 1798.0L1632.1 1798.7L1633.4 1799.3L1634.7 1800.0L1636.0 1800.7L1637.3 1801.5L1638.7 1802.3L1640.0 1803.1L1640.4 1803.3M1657.4 1813.9L1658.4 1814.5L1659.7 1815.3L1661.1 1816.1L1662.4 1817.0L1663.8 1817.8L1664.4 1818.2M1682.8 1829.2L1683.5 1829.6L1684.8 1830.3L1686.2 1831.0L1687.6 1831.7L1689.0 1832.4L1690.4 1833.0L1691.8 1833.7L1693.2 1834.3L1694.6 1834.9L1696.0 1835.5L1697.4 1836.1L1698.9 1836.7L1700.3 1837.2L1701.7 1837.7L1703.2 1838.2L1704.1 1838.5L1705.1 1838.8L1706.2 1839.1L1707.4 1839.4L1708.7 1839.8L1710.0 1840.1L1711.4 1840.4L1712.8 1840.8L1714.3 1841.1L1715.8 1841.5L1717.4 1841.8L1719.0 1842.2L1720.6 1842.5L1722.2 1842.9L1722.8 1843.0M1739.8 1846.0L1740.0 1846.0L1741.5 1846.2L1743.1 1846.4L1744.7 1846.6L1746.3 1846.8L1746.8 1846.8M1765.2 1848.3L1766.0 1848.3L1767.6 1848.4L1769.0 1848.5L1770.5 1848.5L1771.9 1848.6L1773.2 1848.6L1774.5 1848.7L1775.7 1848.7L1776.8 1848.7L1778.4 1848.7L1779.9 1848.7L1781.5 1848.7L1783.0 1848.6L1784.6 1848.6L1786.1 1848.5L1787.7 1848.5L1789.2 1848.4L1790.8 1848.3L1792.3 1848.2L1793.9 1848.1L1795.4 1848.0L1797.0 1847.9L1798.5 1847.8L1800.1 1847.6L1801.6 1847.5L1803.2 1847.4L1804.7 1847.3L1805.2 1847.2M1822.2 1845.3L1823.3 1845.2L1824.8 1845.1L1826.4 1844.9L1827.9 1844.8L1829.2 1844.7M1847.6 1844.3L1847.6 1844.3L1849.2 1844.3L1850.9 1844.3L1852.6 1844.3L1854.2 1844.3L1855.9 1844.3L1857.6 1844.3L1859.3 1844.3L1860.9 1844.3L1862.6 1844.3L1864.2 1844.3L1865.8 1844.2L1867.4 1844.2L1868.9 1844.2L1870.4 1844.2L1871.9 1844.1L1873.4 1844.1L1875.0 1844.1L1876.5 1844.1L1878.0 1844.0L1879.5 1844.0L1881.0 1844.0L1882.6 1844.0L1884.1 1843.9L1885.6 1843.9L1887.1 1843.9L1887.6 1843.9M1904.6 1843.5L1905.4 1843.5L1906.9 1843.4L1908.4 1843.4L1909.8 1843.4L1911.2 1843.3L1911.6 1843.3M1930.0 1842.8L1930.5 1842.8L1932.0 1842.7L1933.5 1842.7L1935.1 1842.6L1936.6 1842.6L1938.2 1842.5L1939.7 1842.5L1941.3 1842.4L1942.8 1842.4L1944.4 1842.3L1945.9 1842.3L1947.5 1842.2L1949.0 1842.2L1950.5 1842.1L1952.0 1842.1" stroke="#0000ff" stroke-width="7" stroke-linejoin="round" fill="none"/>
<path d="M440.9 1865.5L442.4 1865.5L443.9 1865.5L445.6 1865.5L447.2 1865.5L448.8 1865.5L450.4 1865.5L451.9 1865.5M467.5 1865.6L469.0 1865.6L470.7 1865.6L472.5 1865.6L474.2 1865.6L476.0 1865.6L477.8 1865.6L479.6 1865.6L481.3 1865.6L483.1 1865.6L484.9 1865.7L486.7 1865.7L488.6 1865.7L490.4 1865.7L492.2 1865.7L494.0 1865.7L495.9 1865.7L497.5 1865.7M513.0 1865.8L514.6 1865.8L516.5 1865.8L518.4 1865.8L520.3 1865.8L522.2 1865.9L523.0 1865.9M538.5 1866.0L539.6 1866.0L541.6 1866.0L543.5 1866.0L545.5 1866.0L547.4 1866.0L549.4 1866.0L549.5 1866.0M565.1 1866.1L565.1 1866.1L567.1 1866.1L569.1 1866.2L571.1 1866.2L573.1 1866.2L575.0 1866.2L577.0 1866.2L579.0 1866.2L581.0 1866.2L582.9 1866.2L584.9 1866.3L586.9 1866.3L588.9 1866.3L590.9 1866.3L592.8 1866.3L594.8 1866.3L595.1 1866.3M610.6 1866.4L610.6 1866.4L612.6 1866.4L614.5 1866.5L616.5 1866.5L618.4 1866.5L620.4 1866.5L620.6 1866.5M636.1 1866.6L637.8 1866.6L639.7 1866.6L641.7 1866.6L643.6 1866.6L645.5 1866.7L647.1 1866.7M662.7 1866.8L664.3 1866.8L666.1 1866.8L668.0 1866.8L669.8 1866.8L671.7 1866.8L673.5 1866.8L675.3 1866.8L677.1 1866.8L678.9 1866.8L680.7 1866.8L682.5 1866.8L684.3 1866.9L686.1 1866.9L687.8 1866.9L689.6 1866.9L691.4 1866.9L692.7 1866.9M708.2 1866.9L708.4 1866.9L710.1 1866.9L711.7 1867.0L713.4 1867.0L715.0 1867.0L716.6 1867.0L718.2 1867.0M733.7 1867.0L733.8 1867.0L735.2 1867.0L736.7 1867.0L738.2 1867.0L739.7 1867.0L741.1 1867.0L742.5 1867.0L743.9 1867.0L744.7 1867.0M760.3 1866.9L761.2 1866.9L762.4 1866.9L763.6 1866.9L764.8 1866.9L766.0 1866.9L767.2 1866.9L768.4 1866.9L769.5 1866.8L770.6 1866.8L771.7 1866.8L772.8 1866.8L773.9 1866.8L775.0 1866.8L776.0 1866.8L777.0 1866.8L778.1 1866.8L779.1 1866.7L780.0 1866.7L781.0 1866.7L782.0 1866.7L782.9 1866.7L783.8 1866.7L784.7 1866.6L785.6 1866.6L786.4 1866.6L787.3 1866.6L788.1 1866.6L788.9 1866.6L789.7 1866.5L790.3 1866.5M805.8 1864.9L806.2 1864.6L807.2 1863.5L808.1 1862.3L808.8 1861.0L809.5 1859.5L810.0 1858.0L810.5 1856.5L810.9 1855.0M814.7 1839.5L814.8 1838.8L815.1 1837.1L815.4 1835.4L815.7 1833.7L816.0 1832.0L816.3 1830.3L816.6 1828.6L816.6 1828.5M820.4 1812.9L820.8 1811.5L821.2 1809.9L821.7 1808.3L822.1 1806.7L822.5 1805.1L822.9 1803.5L823.3 1802.0L823.7 1800.4L824.0 1799.0L824.3 1797.5L824.6 1796.1L824.9 1794.5L825.1 1793.0L825.4 1791.4L825.6 1789.9L825.8 1788.3L826.0 1786.7L826.2 1785.2L826.3 1783.6L826.4 1782.9M828.0 1767.4L828.1 1766.3L828.2 1765.0L828.4 1763.6L828.5 1762.2L828.7 1760.7L828.8 1759.1L829.0 1757.6L829.0 1757.4M830.5 1741.9L830.6 1741.1L830.8 1739.5L830.9 1737.9L831.1 1736.4L831.3 1734.9L831.4 1733.5L831.6 1732.0L831.7 1730.9M833.3 1715.3L833.4 1714.1L833.6 1712.5L833.7 1710.9L833.9 1709.3L834.1 1707.8L834.2 1706.3L834.4 1704.9L834.5 1703.5L834.7 1702.1L834.8 1700.8L835.0 1699.6L835.1 1698.4L835.3 1696.8L835.5 1695.3L835.7 1693.7L835.9 1692.2L836.1 1690.6L836.3 1689.1L836.5 1687.5L836.7 1686.0L836.8 1685.3M838.6 1669.8L838.6 1669.7L838.7 1668.4L838.9 1667.1L839.0 1665.7L839.1 1664.3L839.2 1662.8L839.3 1661.4L839.4 1659.8L839.4 1659.8M840.6 1644.3L840.7 1643.6L840.8 1642.0L841.0 1640.4L841.1 1638.8L841.2 1637.2L841.4 1635.7L841.6 1634.2L841.6 1633.3M843.5 1617.7L843.6 1616.6L843.8 1615.0L844.0 1613.5L844.2 1611.9L844.4 1610.4L844.6 1608.9L844.7 1607.4L844.9 1606.0L845.1 1604.6L845.2 1603.2L845.4 1601.9L845.6 1600.6L845.7 1599.4L845.9 1597.9L846.1 1596.4L846.2 1594.9L846.4 1593.3L846.6 1591.8L846.8 1590.3L846.9 1588.8L847.1 1587.7M848.8 1572.2L848.8 1572.1L848.9 1570.6L849.0 1569.3L849.1 1568.0L849.2 1566.6L849.3 1565.2L849.4 1563.8L849.5 1562.3L849.5 1562.2M850.5 1546.7L850.6 1546.6L850.7 1545.0L850.8 1543.4L850.9 1541.8L851.0 1540.2L851.1 1538.6L851.3 1537.0L851.4 1535.7M853.1 1520.1L853.1 1519.4L853.3 1517.8L853.5 1516.2L853.7 1514.6L853.9 1513.0L854.1 1511.5L854.3 1510.0L854.4 1508.5L854.6 1507.0L854.7 1505.6L854.9 1504.2L855.0 1502.9L855.1 1501.6L855.2 1500.4L855.3 1498.9L855.4 1497.3L855.5 1495.8L855.6 1494.3L855.6 1492.7L855.7 1491.2L855.7 1490.1M856.3 1474.6L856.3 1474.3L856.4 1472.8L856.5 1471.6L856.5 1470.3L856.6 1469.0L856.7 1467.6L856.8 1466.2L856.8 1464.7L856.8 1464.6M857.8 1449.1L857.8 1448.8L858.0 1447.2L858.1 1445.6L858.2 1444.0L858.4 1442.4L858.6 1440.8L858.7 1439.2L858.9 1438.1M861.0 1422.5L861.1 1422.2L861.3 1420.6L861.6 1418.9L861.8 1417.3L862.1 1415.7L862.4 1414.1L862.7 1412.5L863.0 1411.0L863.2 1409.5L863.5 1408.0L863.8 1406.6L864.1 1405.2L864.4 1403.8L864.6 1402.5L864.9 1401.3L865.2 1400.1L865.6 1398.5L866.0 1396.8L866.6 1395.0L867.1 1393.1L867.3 1392.5M872.3 1377.0L872.4 1376.7L872.8 1375.4L873.2 1374.2L873.6 1373.3L873.8 1372.6L873.9 1372.2L874.0 1372.0L874.2 1372.1L874.6 1372.5L875.3 1373.0L876.3 1373.7L877.4 1374.6L878.7 1375.6L879.0 1375.9M891.7 1390.7L892.1 1391.7L892.5 1393.2L892.8 1394.7L893.1 1396.2L893.4 1397.8L893.6 1399.3L893.8 1400.9L893.9 1401.7M897.1 1417.3L897.5 1418.6L897.9 1420.1L898.3 1421.6L898.7 1423.1L899.1 1424.6L899.5 1426.1L899.9 1427.6L900.3 1429.2L900.6 1430.7L901.0 1432.2L901.3 1433.7L901.6 1435.2L901.9 1436.6L902.1 1438.1L902.3 1439.5L902.6 1441.0L902.8 1442.5L903.0 1444.1L903.2 1445.6L903.3 1447.2L903.4 1447.3M905.3 1462.8L905.3 1462.8L905.5 1464.0L905.7 1465.3L905.9 1466.6L906.2 1468.0L906.4 1469.4L906.7 1470.9L906.9 1472.4L907.0 1472.8M909.9 1488.3L909.9 1488.4L910.2 1490.0L910.5 1491.6L910.8 1493.2L911.0 1494.8L911.3 1496.4L911.6 1497.9L911.8 1499.3M914.5 1514.9L914.6 1515.3L914.9 1516.9L915.2 1518.4L915.4 1520.0L915.7 1521.5L916.0 1523.1L916.2 1524.6L916.5 1526.0L916.8 1527.5L917.0 1528.9L917.3 1530.3L917.5 1531.7L917.8 1533.0L918.1 1534.5L918.4 1536.0L918.7 1537.5L919.0 1539.0L919.3 1540.5L919.6 1542.0L920.0 1543.5L920.3 1544.9M923.6 1560.4L923.8 1561.5L924.1 1563.0L924.4 1564.3L924.6 1565.7L924.9 1567.1L925.1 1568.5L925.4 1570.0L925.5 1570.4M928.2 1585.9L928.4 1587.1L928.7 1588.7L928.9 1590.3L929.2 1591.9L929.5 1593.5L929.8 1595.0L930.1 1596.6L930.2 1596.9M933.4 1612.5L933.4 1612.5L933.7 1614.1L934.1 1615.8L934.4 1617.4L934.8 1619.0L935.1 1620.5L935.4 1622.1L935.8 1623.6L936.1 1625.1L936.4 1626.6L936.7 1628.0L937.0 1629.4L937.3 1630.7L937.6 1632.0L937.9 1633.2L938.2 1634.7L938.6 1636.3L938.9 1637.8L939.3 1639.3L939.6 1640.9L939.9 1642.4L940.0 1642.5M943.5 1658.0L943.8 1659.3L944.2 1660.8L944.5 1662.1L944.9 1663.5L945.3 1665.0L945.7 1666.5L946.0 1668.0M950.2 1683.5L950.6 1684.9L951.0 1686.4L951.4 1687.8L951.7 1689.2L952.1 1690.4L952.4 1691.5L952.7 1692.5L952.9 1693.4L953.2 1694.5M957.7 1710.1L958.0 1710.9L958.4 1712.0L958.9 1713.2L959.4 1714.5L959.9 1715.8L960.5 1717.2L961.2 1718.6L961.8 1720.1L962.5 1721.5L963.1 1723.1L963.8 1724.6L964.5 1726.1L965.2 1727.6L966.0 1729.1L966.6 1730.6L967.3 1732.1L968.0 1733.5L968.6 1734.8L969.2 1736.1L969.8 1737.4L970.4 1738.7L971.1 1740.1M978.8 1755.6L978.9 1755.8L979.7 1757.2L980.5 1758.5L981.2 1759.7L982.0 1760.9L982.7 1762.2L983.5 1763.4L984.3 1764.7L984.9 1765.6M995.9 1781.1L996.0 1781.2L997.0 1782.4L998.0 1783.6L998.9 1784.7L999.9 1785.9L1000.9 1787.0L1001.9 1788.2L1003.0 1789.3L1004.0 1790.5L1005.1 1791.7L1005.5 1792.1M1020.9 1806.3L1021.9 1807.0L1023.2 1807.9L1024.5 1808.7L1025.9 1809.5L1027.3 1810.2L1028.7 1811.0L1030.1 1811.7L1031.5 1812.4L1032.9 1813.1L1034.4 1813.7L1035.8 1814.4L1037.2 1815.0L1038.7 1815.6L1040.1 1816.3L1041.5 1816.9L1042.9 1817.5L1044.3 1818.1L1045.7 1818.7L1047.1 1819.4L1048.6 1820.0L1050.0 1820.6L1050.9 1821.0M1066.4 1827.3L1067.7 1827.7L1069.2 1828.2L1070.7 1828.7L1072.0 1829.1L1073.4 1829.5L1074.8 1829.8L1076.2 1830.2L1076.4 1830.3M1091.9 1833.5L1093.1 1833.8L1094.7 1834.0L1096.2 1834.3L1097.8 1834.5L1099.3 1834.8L1100.8 1835.0L1102.3 1835.2L1102.9 1835.3M1118.5 1836.9L1118.8 1836.9L1120.3 1837.0L1121.8 1837.1L1123.4 1837.2L1124.9 1837.3L1126.4 1837.3L1127.9 1837.4L1129.4 1837.5L1130.9 1837.5L1132.1 1837.5L1133.3 1837.5L1134.7 1837.5L1136.0 1837.5L1137.4 1837.5L1138.9 1837.5L1140.4 1837.4L1141.9 1837.4L1143.5 1837.4L1145.1 1837.3L1146.7 1837.2L1148.3 1837.2L1148.5 1837.2M1164.0 1836.5L1164.9 1836.4L1166.4 1836.4L1168.0 1836.3L1169.5 1836.3L1171.0 1836.2L1172.5 1836.2L1174.0 1836.1M1189.5 1835.7L1189.8 1835.7L1191.4 1835.7L1193.0 1835.6L1194.5 1835.6L1196.1 1835.6L1197.6 1835.5L1199.1 1835.4L1200.5 1835.4M1216.1 1834.3L1216.9 1834.2L1218.5 1834.0L1220.1 1833.8L1221.7 1833.6L1223.3 1833.4L1224.9 1833.2L1226.5 1833.0L1228.0 1832.8L1229.6 1832.6L1231.1 1832.4L1232.7 1832.2L1234.2 1832.0L1235.6 1831.8L1237.1 1831.6L1238.5 1831.5L1239.9 1831.3L1241.2 1831.1L1242.5 1831.0L1244.1 1830.8L1245.6 1830.7L1246.1 1830.7M1261.6 1829.5L1262.9 1829.4L1264.5 1829.3L1266.0 1829.1L1267.6 1828.9L1269.1 1828.6L1270.7 1828.4L1271.6 1828.2M1287.1 1824.6L1287.7 1824.4L1289.3 1824.0L1290.9 1823.5L1292.5 1823.1L1294.1 1822.7L1295.7 1822.2L1297.3 1821.8L1298.1 1821.6M1313.7 1817.8L1314.5 1817.6L1316.1 1817.2L1317.7 1816.9L1319.3 1816.5L1320.9 1816.2L1322.6 1815.8L1324.2 1815.5L1325.8 1815.1L1327.4 1814.8L1328.9 1814.4L1330.5 1814.1L1332.0 1813.7L1333.5 1813.4L1334.9 1813.0L1336.3 1812.7L1337.7 1812.3L1339.0 1812.0L1340.3 1811.7L1341.5 1811.3L1342.7 1811.0L1343.7 1810.7M1359.2 1805.4L1359.7 1805.2L1361.2 1804.7L1362.6 1804.1L1364.0 1803.6L1365.4 1803.1L1366.8 1802.5L1368.2 1802.0L1369.2 1801.7M1384.7 1795.8L1385.6 1795.4L1387.1 1794.8L1388.7 1794.2L1390.2 1793.6L1391.8 1793.0L1393.4 1792.4L1395.0 1791.8L1395.7 1791.5M1411.3 1785.7L1411.3 1785.7L1412.9 1785.1L1414.4 1784.5L1416.0 1784.0L1417.5 1783.4L1419.1 1782.8L1420.7 1782.3L1422.2 1781.7L1423.8 1781.1L1425.4 1780.6L1426.9 1780.0L1428.4 1779.5L1429.9 1778.9L1431.4 1778.4L1432.8 1777.9L1434.3 1777.4L1435.6 1776.9L1436.9 1776.5L1438.2 1776.0L1439.5 1775.6L1440.6 1775.2L1441.3 1775.0M1456.8 1769.9L1457.8 1769.6L1459.3 1769.1L1460.8 1768.7L1462.4 1768.3L1463.9 1767.9L1465.4 1767.5L1466.8 1767.2M1482.3 1764.8L1482.8 1764.7L1484.7 1764.5L1486.6 1764.3L1488.4 1764.1L1490.3 1763.9L1492.1 1763.7L1493.3 1763.6M1508.9 1764.0L1509.0 1764.0L1510.4 1764.6L1511.9 1765.1L1513.3 1765.6L1514.8 1766.0L1515.6 1766.1L1516.5 1766.3L1517.7 1766.5L1519.1 1766.6L1520.5 1766.8L1522.1 1767.0L1523.8 1767.2L1525.6 1767.4L1527.5 1767.6L1529.3 1767.8L1531.2 1768.1L1533.1 1768.4L1534.9 1768.7L1536.7 1769.0L1538.4 1769.3L1538.9 1769.4M1554.4 1774.3L1554.5 1774.4L1556.0 1774.9L1557.5 1775.5L1559.0 1776.1L1560.4 1776.7L1561.9 1777.3L1563.4 1777.8L1564.4 1778.2M1579.9 1784.5L1580.3 1784.7L1581.7 1785.3L1583.1 1785.9L1584.5 1786.6L1585.8 1787.2L1587.2 1787.9L1588.6 1788.6L1589.9 1789.3L1590.9 1789.8M1606.5 1800.5L1606.8 1800.8L1608.1 1801.7L1609.3 1802.7L1610.5 1803.6L1611.7 1804.5L1612.9 1805.4L1614.1 1806.3L1615.2 1807.1L1616.3 1807.9L1617.5 1808.8L1618.8 1809.7L1620.0 1810.5L1621.2 1811.4L1622.4 1812.3L1623.6 1813.2L1624.8 1814.1L1626.1 1815.0L1627.3 1815.9L1628.5 1816.7L1629.8 1817.6L1631.0 1818.4L1632.3 1819.3L1633.5 1820.1L1634.8 1820.9L1636.1 1821.6L1636.5 1821.9M1652.0 1829.9L1653.0 1830.3L1654.5 1831.0L1656.0 1831.6L1657.5 1832.3L1658.9 1832.9L1660.4 1833.4L1661.9 1834.0L1662.0 1834.0M1677.5 1838.3L1677.6 1838.4L1679.2 1838.7L1680.8 1839.0L1682.4 1839.3L1684.0 1839.6L1685.6 1839.8L1687.2 1840.1L1688.5 1840.3M1704.1 1842.2L1704.7 1842.2L1706.3 1842.3L1707.8 1842.4L1709.3 1842.5L1710.8 1842.6L1712.4 1842.6L1713.9 1842.7L1715.4 1842.7L1717.0 1842.7L1718.5 1842.7L1720.0 1842.7L1721.6 1842.7L1723.1 1842.6L1724.7 1842.6L1726.2 1842.6L1727.7 1842.5L1729.3 1842.5L1730.8 1842.4L1732.3 1842.4L1733.9 1842.3L1734.1 1842.3M1749.6 1841.6L1749.7 1841.6L1751.4 1841.4L1753.0 1841.3L1754.7 1841.2L1756.4 1841.1L1758.0 1840.9L1759.6 1840.8M1775.1 1839.6L1775.7 1839.6L1776.8 1839.5L1778.4 1839.4L1779.9 1839.4L1781.5 1839.3L1783.0 1839.3L1784.6 1839.2L1786.1 1839.2M1801.7 1839.0L1803.2 1839.0L1804.4 1839.0L1805.8 1839.0L1807.2 1839.0L1808.6 1839.0L1810.1 1839.0L1811.7 1839.0L1813.3 1839.0L1814.9 1839.0L1816.6 1839.0L1818.3 1839.0L1820.0 1839.0L1821.7 1839.0L1823.4 1839.0L1825.1 1839.0L1826.8 1839.0L1828.4 1839.0L1830.0 1839.0L1831.6 1839.0L1831.7 1839.0M1847.2 1838.8L1848.0 1838.7L1849.6 1838.7L1851.1 1838.6L1852.6 1838.6L1854.1 1838.5L1855.7 1838.5L1857.2 1838.4M1872.7 1838.2L1873.4 1838.2L1874.9 1838.2L1876.4 1838.2L1878.0 1838.3L1879.5 1838.3L1881.1 1838.3L1882.7 1838.3L1883.7 1838.3M1899.3 1838.2L1900.5 1838.2L1902.1 1838.1L1903.7 1838.0L1905.4 1837.9L1907.2 1837.8L1908.9 1837.7L1910.7 1837.6L1912.5 1837.5L1914.4 1837.3L1916.2 1837.2L1917.9 1837.0L1919.7 1836.9L1921.4 1836.7L1923.1 1836.6L1924.7 1836.4L1926.3 1836.3L1927.8 1836.1L1929.2 1836.0L1929.3 1836.0M1944.8 1834.6L1945.7 1834.6L1947.3 1834.4L1948.9 1834.3L1950.4 1834.1L1952.0 1834.0" stroke="#ff8000" stroke-width="5.5" stroke-linejoin="round" fill="none"/>
</g>
<clipPath id="cp3"><rect x="430" y="1867.5" width="1520" height="862.9000000000001"/></clipPath>
<g clip-path="url(#cp3)">
<path d="M430.0 2730.5C501.7 2730.5 643.4 2731.0 645.0 2730.5C646.6 2730.0 648.2 2728.9 649.1 2727.5C650.0 2726.1 653.1 2709.9 654.6 2701.0C656.1 2692.1 658.6 2671.9 660.0 2657.3C661.4 2642.7 662.7 2623.3 663.7 2606.3C664.7 2589.3 665.7 2560.2 666.6 2540.8C667.5 2521.4 668.5 2501.9 669.2 2482.5C669.9 2463.1 670.3 2435.2 671.0 2417.0C671.7 2398.8 673.0 2380.6 673.9 2362.4C674.8 2344.2 675.6 2321.1 676.4 2300.5C677.2 2279.9 678.2 2259.2 679.0 2238.6C679.8 2218.0 680.5 2194.9 681.2 2176.7C681.9 2158.5 682.7 2139.5 683.7 2122.1C684.7 2104.7 686.3 2085.3 687.4 2070.0C688.5 2054.7 690.0 2030.4 691.0 2024.0C692.0 2017.6 695.4 2005.0 695.4 2005.0C695.4 2005.0 698.5 2017.6 699.4 2024.0C700.3 2030.4 702.5 2065.0 703.7 2082.0C704.9 2099.0 706.3 2116.0 707.4 2133.0C708.5 2150.0 710.0 2181.5 711.0 2198.5C712.0 2215.5 713.0 2232.5 713.9 2249.5C714.8 2266.5 715.7 2283.5 716.5 2300.5C717.3 2317.5 717.9 2345.4 719.0 2366.0C720.1 2386.6 721.9 2409.7 723.0 2427.9C724.1 2446.1 725.2 2464.3 726.3 2482.5C727.4 2500.7 728.7 2523.8 730.0 2540.8C731.3 2557.8 733.2 2579.5 734.7 2591.7C736.2 2603.9 738.1 2616.1 740.1 2628.2C742.1 2640.3 745.4 2659.6 747.4 2668.2C749.4 2676.8 751.9 2687.2 754.7 2693.7C757.5 2700.2 761.5 2707.0 765.6 2711.9C769.7 2716.8 776.9 2722.8 780.2 2724.6C783.5 2726.4 787.4 2726.9 791.1 2727.5C794.8 2728.1 810.4 2728.3 820.0 2728.5C829.6 2728.7 1135.2 2730.6 1140.0 2728.5C1144.8 2726.4 1146.2 2719.8 1150.7 2717.0C1155.2 2714.2 1172.3 2711.0 1180.8 2708.1C1189.3 2705.2 1197.5 2701.4 1205.8 2698.1C1214.1 2694.8 1222.6 2691.4 1230.9 2688.1C1239.2 2684.8 1247.4 2680.8 1255.9 2678.1C1264.4 2675.4 1274.5 2674.1 1281.9 2672.1C1289.3 2670.1 1296.6 2667.5 1303.9 2665.5C1311.2 2663.5 1318.4 2661.4 1325.8 2660.0C1333.2 2658.6 1343.3 2657.4 1352.1 2656.8C1360.9 2656.2 1371.1 2656.3 1380.6 2656.3C1390.1 2656.3 1403.2 2656.3 1409.1 2656.8C1415.0 2657.3 1420.9 2658.3 1426.7 2659.4C1432.5 2660.5 1441.3 2662.7 1448.6 2664.4C1455.9 2666.1 1464.6 2668.4 1472.7 2669.9C1480.8 2671.4 1493.8 2673.0 1501.2 2674.3C1508.6 2675.6 1515.9 2677.2 1523.2 2678.7C1530.5 2680.2 1537.8 2681.8 1545.1 2683.1C1552.4 2684.4 1559.7 2685.7 1567.0 2686.4C1574.3 2687.1 1582.0 2687.1 1589.0 2687.5C1596.0 2687.9 1603.0 2688.6 1610.0 2688.8C1617.0 2689.0 1670.0 2689.4 1700.0 2689.4C1730.0 2689.4 1769.1 2689.2 1790.0 2688.5C1810.9 2687.8 1833.9 2686.2 1852.7 2685.0C1871.5 2683.8 1894.7 2682.1 1909.0 2681.1C1923.3 2680.1 1937.7 2679.0 1952.0 2678.0" stroke="#000000" stroke-width="7" fill="none" stroke-linejoin="round"/>
<path d="M430.0 2731.0L431.5 2731.0L433.0 2731.0L434.6 2731.0L436.1 2731.0L437.7 2731.0L439.2 2731.0L440.8 2731.0L442.4 2731.0L444.0 2731.0L445.7 2731.0L447.0 2731.0M480.0 2731.0L480.4 2731.0L482.2 2731.0L484.1 2731.0L485.9 2731.1L487.8 2731.1L489.7 2731.1L491.5 2731.1L493.4 2731.1L495.3 2731.1L497.2 2731.1L499.1 2731.1L501.0 2731.1L502.9 2731.1L504.8 2731.1L506.7 2731.1L508.7 2731.1L510.6 2731.1L512.5 2731.1M545.5 2731.2L546.0 2731.2L548.0 2731.2L550.0 2731.2L551.9 2731.2L553.9 2731.2L555.9 2731.2L557.9 2731.2L559.9 2731.2L561.9 2731.2L563.9 2731.2L565.9 2731.2L567.9 2731.2L569.9 2731.2L571.8 2731.2L573.8 2731.2L575.8 2731.2L577.8 2731.2L578.0 2731.2M611.0 2731.3L611.0 2731.3L612.9 2731.3L614.8 2731.3L616.7 2731.3L618.6 2731.3L620.5 2731.3L622.4 2731.3L624.3 2731.3L626.2 2731.3L628.0 2731.3L629.9 2731.3L631.7 2731.3L633.6 2731.3L635.4 2731.3L637.2 2731.3L639.1 2731.3L640.9 2731.3L642.7 2731.3L643.5 2731.3M676.5 2731.4L676.6 2731.4L678.2 2731.4L679.7 2731.4L681.3 2731.4L682.8 2731.4L684.3 2731.4L685.8 2731.4L687.3 2731.4L688.8 2731.4L690.3 2731.4L691.7 2731.4L693.2 2731.4L694.6 2731.4L696.0 2731.4L697.4 2731.4L698.7 2731.4L700.1 2731.4L701.4 2731.4L702.8 2731.4L704.1 2731.4L705.4 2731.4L706.6 2731.4L707.9 2731.3L709.0 2731.3M742.0 2731.1L742.4 2731.1L742.7 2731.1L743.1 2731.1L743.4 2731.1L743.6 2731.1L743.9 2731.1L744.1 2731.1L744.3 2731.1L744.5 2731.1L744.7 2731.0L744.8 2731.0L744.9 2731.0L745.0 2731.0L745.0 2731.0L745.9 2730.5L746.7 2729.8L747.4 2729.1L748.0 2728.2L748.6 2727.4L749.2 2726.5L749.6 2725.8L750.2 2724.8L750.9 2723.6L751.7 2722.1L752.5 2720.5L753.4 2718.7L754.2 2717.0L755.1 2715.2L755.8 2713.5L756.5 2711.9L757.1 2710.5L757.6 2709.1L758.2 2707.6L758.7 2706.2L759.3 2704.7L759.8 2703.2L760.2 2702.0M766.1 2669.0L766.3 2667.4L766.6 2665.6L766.8 2663.9L767.0 2662.2L767.2 2660.5L767.3 2658.9L767.5 2657.3L767.6 2656.3L767.7 2655.2L767.8 2654.0L767.9 2652.8L768.0 2651.6L768.1 2650.3L768.2 2649.0L768.3 2647.6L768.4 2646.2L768.5 2644.8L768.6 2643.3L768.7 2641.8L768.8 2640.3L768.9 2638.7L769.0 2637.2L769.0 2636.5M770.8 2603.5L770.9 2602.1L771.0 2600.5L771.1 2599.0L771.2 2597.5L771.3 2595.9L771.4 2594.4L771.5 2592.9L771.6 2591.3L771.7 2589.8L771.8 2588.3L771.9 2586.7L772.0 2585.2L772.0 2583.7L772.1 2582.2L772.2 2580.6L772.3 2579.1L772.4 2577.6L772.5 2576.0L772.6 2574.5L772.7 2573.0L772.8 2571.4L772.8 2571.0M774.9 2538.0L774.9 2537.7L775.0 2536.2L775.1 2534.6L775.2 2533.1L775.3 2531.5L775.4 2530.0L775.5 2528.4L775.6 2526.8L775.7 2525.3L775.8 2523.7L775.9 2522.2L776.0 2520.6L776.1 2519.0L776.2 2517.5L776.3 2515.9L776.4 2514.3L776.5 2512.8L776.6 2511.2L776.7 2509.6L776.8 2508.1L776.9 2506.5L776.9 2505.5M779.0 2472.5L779.1 2471.9L779.2 2470.4L779.3 2468.8L779.4 2467.3L779.5 2465.8L779.6 2464.3L779.7 2462.8L779.8 2461.3L779.9 2459.7L780.0 2458.2L780.1 2456.7L780.2 2455.2L780.3 2453.7L780.4 2452.2L780.5 2450.6L780.6 2449.1L780.7 2447.6L780.8 2446.1L780.9 2444.6L781.0 2443.1L781.1 2441.5L781.2 2440.0L781.2 2440.0M783.5 2407.0L783.5 2406.7L783.6 2405.2L783.7 2403.6L783.8 2402.1L783.9 2400.6L784.0 2399.1L784.1 2397.6L784.2 2396.1L784.4 2394.5L784.5 2393.0L784.6 2391.5L784.7 2390.0L784.8 2388.5L784.9 2387.0L785.0 2385.4L785.1 2383.9L785.2 2382.4L785.3 2380.9L785.3 2379.4L785.4 2377.9L785.5 2376.3L785.6 2374.8L785.6 2374.5M787.1 2341.5L787.1 2341.0L787.2 2339.4L787.2 2337.8L787.3 2336.3L787.4 2334.7L787.4 2333.1L787.5 2331.6L787.6 2330.0L787.6 2328.5L787.7 2326.9L787.7 2325.4L787.8 2323.9L787.9 2322.4L787.9 2320.9L788.0 2319.4L788.1 2317.9L788.1 2316.4L788.2 2315.0L788.3 2313.5L788.3 2312.0L788.4 2310.4L788.5 2309.0M790.2 2276.0L790.3 2275.6L790.3 2274.0L790.4 2272.5L790.5 2271.0L790.6 2269.5L790.7 2268.0L790.8 2266.5L790.8 2264.9L790.9 2263.4L791.0 2261.9L791.1 2260.4L791.2 2259.1L791.3 2257.7L791.3 2256.3L791.4 2254.9L791.5 2253.5L791.6 2252.1L791.7 2250.7L791.8 2249.2L791.8 2247.8L791.9 2246.3L792.0 2244.8L792.1 2243.5M794.1 2210.5L794.2 2209.2L794.3 2207.7L794.4 2206.1L794.5 2204.6L794.6 2203.1L794.6 2201.5L794.7 2200.0L794.8 2198.5L794.9 2197.1L794.9 2195.6L795.0 2194.1L795.1 2192.7L795.2 2191.2L795.2 2189.7L795.3 2188.2L795.4 2186.8L795.5 2185.3L795.5 2183.8L795.6 2182.3L795.7 2180.7L795.7 2179.2L795.8 2178.0M797.2 2145.0L797.3 2143.7L797.3 2142.2L797.4 2140.7L797.4 2139.1L797.5 2137.6L797.6 2136.1L797.6 2134.5L797.7 2133.0L797.8 2131.5L797.8 2130.0L797.9 2128.4L797.9 2126.9L798.0 2125.4L798.1 2123.9L798.1 2122.3L798.2 2120.8L798.2 2119.3L798.3 2117.8L798.3 2116.2L798.4 2114.7L798.5 2113.2L798.5 2112.5M799.7 2079.5L799.7 2078.2L799.8 2076.6L799.9 2075.1L799.9 2073.6L800.0 2072.1L800.1 2070.5L800.1 2069.0L800.2 2067.5L800.3 2066.1L800.3 2064.6L800.4 2063.2L800.5 2061.7L800.5 2060.2L800.6 2058.8L800.7 2057.3L800.7 2055.8L800.8 2054.3L800.9 2052.8L801.0 2051.3L801.0 2049.7L801.1 2048.2L801.2 2047.0M802.9 2014.0L803.0 2012.8L803.1 2011.3L803.2 2009.9L803.2 2008.4L803.3 2006.9L803.4 2005.4L803.5 2004.0L803.6 2002.6L803.7 2001.1L803.8 1999.7L803.9 1998.3L804.0 1996.8L804.1 1995.2L804.2 1993.6L804.3 1992.0L804.5 1990.3L804.6 1988.6L804.7 1986.8L804.8 1985.0L805.0 1983.2L805.1 1981.5M807.7 1948.5L807.7 1948.1L807.9 1946.7L808.0 1945.3L808.1 1944.0L808.3 1942.7L808.4 1941.5L808.5 1940.3L808.6 1939.2L808.7 1938.2L808.8 1937.3L808.9 1936.5L809.0 1935.7L809.1 1935.1L809.2 1934.5L809.3 1934.0L809.7 1932.4L810.1 1930.5L810.7 1928.6L811.3 1926.6L811.9 1924.6L812.5 1922.7L813.1 1920.9L813.6 1919.3L814.1 1917.9L814.5 1916.9L814.7 1916.2L814.8 1916.0" stroke="#ff0000" stroke-width="6" stroke-linejoin="round" fill="none"/>
<path d="M814.8 1916.0L814.9 1916.2L815.3 1916.6L815.8 1917.4L816.6 1918.4L817.4 1919.6L818.4 1921.0L819.4 1922.5L820.5 1924.1L821.5 1925.8L822.6 1927.5L823.5 1929.2L824.4 1930.9L825.1 1932.5L825.7 1934.0L825.9 1934.5L826.0 1935.1L826.2 1935.7L826.3 1936.5L826.5 1937.3L826.6 1938.2L826.8 1939.2L826.9 1940.3L827.1 1941.4L827.2 1942.6L827.4 1943.9L827.6 1945.2L827.6 1945.5M830.8 1978.5L830.9 1979.4L831.0 1981.3L831.2 1983.1L831.4 1985.0L831.5 1986.8L831.7 1988.6L831.9 1990.4L832.0 1992.1L832.2 1993.8L832.4 1995.5L832.5 1997.2L832.7 1998.8L832.8 2000.4L833.0 2001.9L833.2 2003.4L833.3 2004.9L833.5 2006.4L833.6 2007.9L833.8 2009.4L834.0 2010.9L834.0 2011.0M837.5 2044.0L837.6 2045.0L837.7 2046.5L837.9 2048.0L838.1 2049.5L838.2 2051.0L838.4 2052.5L838.5 2054.0L838.7 2055.5L838.8 2057.0L839.0 2058.4L839.1 2059.9L839.3 2061.3L839.4 2062.8L839.6 2064.2L839.7 2065.6L839.9 2067.0L840.0 2068.4L840.2 2069.7L840.3 2071.1L840.5 2072.6L840.6 2074.1L840.8 2075.6L840.9 2076.5M844.3 2109.5L844.4 2110.3L844.5 2111.9L844.7 2113.4L844.8 2114.9L845.0 2116.4L845.1 2117.9L845.3 2119.4L845.4 2120.9L845.5 2122.4L845.7 2123.9L845.8 2125.4L846.0 2127.0L846.1 2128.5L846.2 2130.0L846.4 2131.5L846.5 2133.0L846.6 2134.4L846.7 2135.9L846.9 2137.4L847.0 2138.8L847.1 2140.3L847.2 2141.8L847.2 2142.0M849.6 2175.0L849.6 2175.4L849.7 2176.9L849.8 2178.5L849.9 2180.0L850.0 2181.6L850.1 2183.1L850.2 2184.7L850.3 2186.2L850.4 2187.8L850.6 2189.3L850.7 2190.8L850.8 2192.4L850.9 2193.9L851.0 2195.4L851.1 2197.0L851.2 2198.5L851.3 2200.0L851.4 2201.5L851.5 2203.1L851.6 2204.6L851.7 2206.1L851.8 2207.5M854.1 2240.5L854.1 2241.2L854.3 2242.7L854.4 2244.3L854.5 2245.8L854.6 2247.3L854.7 2248.8L854.8 2250.4L854.9 2251.9L855.0 2253.4L855.2 2255.0L855.3 2256.5L855.4 2258.0L855.5 2259.5L855.6 2261.1L855.8 2262.6L855.9 2264.1L856.0 2265.6L856.2 2267.1L856.3 2268.7L856.4 2270.2L856.6 2271.7L856.7 2273.0M859.9 2306.0L859.9 2306.8L860.1 2308.3L860.2 2309.8L860.4 2311.3L860.5 2312.9L860.7 2314.4L860.8 2315.9L861.0 2317.4L861.1 2318.9L861.3 2320.5L861.4 2322.0L861.5 2323.5L861.7 2325.0L861.8 2326.6L862.0 2328.1L862.1 2329.6L862.2 2331.1L862.4 2332.6L862.5 2334.2L862.6 2335.7L862.7 2337.2L862.9 2338.5M865.4 2371.5L865.4 2372.3L865.6 2373.8L865.7 2375.3L865.8 2376.8L866.0 2378.4L866.1 2379.9L866.2 2381.4L866.4 2382.9L866.5 2384.5L866.7 2386.0L866.8 2387.5L867.0 2389.0L867.1 2390.5L867.3 2392.1L867.4 2393.6L867.6 2395.1L867.8 2396.6L867.9 2398.1L868.1 2399.6L868.3 2401.0L868.5 2402.5L868.7 2404.0L868.7 2404.0M873.3 2437.0L873.5 2438.3L873.7 2439.8L873.9 2441.3L874.1 2442.8L874.3 2444.3L874.6 2445.8L874.8 2447.3L875.0 2448.8L875.2 2450.3L875.4 2451.8L875.6 2453.3L875.9 2454.7L876.1 2456.2L876.3 2457.7L876.5 2459.2L876.7 2460.7L876.9 2462.2L877.1 2463.7L877.3 2465.3L877.5 2466.8L877.8 2468.4L877.9 2469.5M882.5 2502.5L882.7 2504.0L882.9 2505.6L883.1 2507.1L883.3 2508.6L883.5 2510.0L883.7 2511.5L883.9 2512.9L884.1 2514.3L884.3 2515.6L884.5 2516.9L884.7 2518.2L884.9 2519.5L885.0 2520.7L885.2 2521.9L885.4 2523.0L885.5 2524.1L885.7 2525.2L885.8 2526.2L886.0 2527.7L886.2 2529.3L886.4 2530.9L886.7 2532.6L886.9 2534.3L887.0 2535.0M891.6 2568.0L891.7 2568.3L891.8 2569.2L892.0 2570.0L892.3 2571.5L892.7 2573.0L893.1 2574.6L893.5 2576.2L893.9 2577.8L894.4 2579.3L894.8 2580.9L895.3 2582.4L895.7 2583.9L896.2 2585.4L896.7 2586.8L897.1 2588.2L897.6 2589.6L898.1 2590.8L898.5 2592.0L899.1 2593.4L899.7 2594.8L900.4 2596.2L901.0 2597.6L901.8 2599.0L902.5 2600.3L902.6 2600.5M914.4 2633.5L914.9 2635.2L915.5 2637.1L916.1 2639.0L916.6 2640.8L917.2 2642.7L917.8 2644.4L918.3 2646.2L918.9 2647.8L919.4 2649.4L919.9 2650.9L920.4 2652.3L920.8 2653.5L921.2 2654.7L921.6 2655.7L922.0 2656.6L922.3 2657.4L922.6 2658.0L923.3 2659.3L924.1 2660.7L924.9 2662.0L925.7 2663.2L926.6 2664.5L927.5 2665.7L927.7 2666.0M958.9 2698.5L959.9 2699.3L960.8 2700.1L961.6 2700.8L962.3 2701.4L962.9 2701.8L964.3 2702.6L965.7 2703.4L967.1 2704.1L968.6 2704.7L970.1 2705.2L971.7 2705.8L973.2 2706.3L974.7 2706.9L976.2 2707.5L977.7 2708.1L978.9 2708.7L980.2 2709.3L981.5 2710.0L982.9 2710.7L984.3 2711.5L985.7 2712.2L987.1 2713.0L988.5 2713.7L990.0 2714.4L991.4 2715.0M1024.4 2721.2L1024.5 2721.2L1026.0 2721.4L1027.5 2721.6L1028.9 2721.7L1030.4 2721.9L1031.9 2722.1L1033.4 2722.3L1035.0 2722.4L1036.5 2722.6L1038.0 2722.7L1039.6 2722.9L1041.1 2723.0L1042.7 2723.1L1044.3 2723.3L1045.9 2723.4L1047.4 2723.5L1049.0 2723.6L1050.6 2723.7L1052.2 2723.8L1053.7 2723.8L1055.3 2723.9L1056.9 2723.9L1056.9 2723.9M1089.9 2722.4L1090.9 2722.4L1092.4 2722.2L1094.0 2722.1L1095.5 2722.0L1096.8 2721.9L1098.1 2721.8L1099.4 2721.7L1100.9 2721.6L1102.3 2721.5L1103.8 2721.4L1105.4 2721.3L1106.9 2721.1L1108.5 2721.0L1110.2 2720.9L1111.8 2720.7L1113.5 2720.6L1115.2 2720.5L1116.9 2720.3L1118.5 2720.2L1120.2 2720.0L1121.9 2719.9L1122.4 2719.8M1155.4 2715.8L1156.5 2715.7L1158.0 2715.4L1159.5 2715.2L1160.9 2714.9L1162.4 2714.7L1163.9 2714.4L1165.4 2714.1L1166.9 2713.8L1168.4 2713.5L1169.8 2713.2L1171.3 2712.9L1172.8 2712.6L1174.2 2712.2L1175.7 2711.9L1177.2 2711.5L1178.8 2711.1L1180.3 2710.7L1181.9 2710.2L1183.5 2709.7L1185.1 2709.2L1186.6 2708.7L1187.9 2708.3M1220.9 2699.0L1222.0 2698.8L1223.5 2698.6L1225.0 2698.4L1226.5 2698.2L1228.0 2697.9L1229.5 2697.7L1231.0 2697.4L1232.5 2697.1L1234.0 2696.8L1235.5 2696.4L1236.9 2696.0L1238.4 2695.6L1239.3 2695.3L1240.2 2695.0L1241.2 2694.6L1242.4 2694.2L1243.6 2693.7L1244.8 2693.2L1246.1 2692.6L1247.5 2692.0L1249.0 2691.4L1250.4 2690.7L1252.0 2690.1L1253.4 2689.4M1286.4 2674.3L1287.7 2673.7L1289.1 2673.1L1290.6 2672.5L1292.0 2671.9L1293.4 2671.4L1294.9 2670.8L1296.3 2670.2L1297.7 2669.7L1299.2 2669.1L1300.6 2668.5L1302.0 2668.0L1303.5 2667.4L1304.9 2666.9L1306.3 2666.3L1307.8 2665.7L1309.2 2665.2L1310.6 2664.6L1312.1 2664.0L1313.5 2663.5L1314.9 2662.9L1316.4 2662.3L1317.8 2661.7L1318.9 2661.2M1351.9 2646.3L1353.2 2645.8L1354.6 2645.3L1356.0 2644.7L1357.5 2644.2L1358.9 2643.7L1360.3 2643.2L1361.8 2642.8L1363.2 2642.3L1364.6 2641.8L1366.1 2641.4L1367.5 2640.9L1369.0 2640.5L1370.4 2640.0L1371.9 2639.6L1373.3 2639.2L1374.8 2638.7L1376.2 2638.3L1377.7 2637.9L1379.2 2637.5L1380.6 2637.1L1382.1 2636.7L1383.5 2636.3L1384.4 2636.1M1417.4 2628.3L1417.9 2628.2L1419.4 2628.0L1420.9 2627.8L1422.4 2627.6L1423.9 2627.4L1425.4 2627.3L1426.9 2627.1L1428.5 2627.0L1430.0 2626.9L1431.5 2626.8L1433.0 2626.7L1434.5 2626.6L1436.0 2626.5L1437.6 2626.4L1439.1 2626.4L1440.6 2626.3L1442.1 2626.3L1443.6 2626.2L1445.1 2626.2L1446.7 2626.2L1448.2 2626.1L1449.7 2626.1L1449.9 2626.1M1482.9 2627.0L1483.7 2627.1L1485.2 2627.3L1486.7 2627.4L1488.2 2627.6L1489.7 2627.8L1491.3 2628.0L1492.8 2628.3L1494.3 2628.5L1495.8 2628.8L1497.3 2629.0L1498.8 2629.3L1500.3 2629.6L1501.8 2629.9L1503.3 2630.1L1504.8 2630.4L1506.3 2630.7L1507.8 2631.0L1509.3 2631.3L1510.8 2631.5L1512.2 2631.8L1513.7 2632.1L1515.2 2632.3L1515.4 2632.4M1548.4 2638.1L1549.9 2638.3L1551.3 2638.6L1552.8 2638.8L1554.3 2639.0L1555.7 2639.3L1557.2 2639.5L1558.7 2639.7L1560.2 2640.0L1561.7 2640.2L1563.2 2640.4L1564.8 2640.6L1566.3 2640.9L1567.8 2641.1L1569.3 2641.4L1570.8 2641.6L1572.3 2641.9L1573.8 2642.1L1575.3 2642.4L1576.8 2642.7L1578.3 2643.0L1579.8 2643.3L1580.9 2643.5M1613.9 2652.3L1615.0 2652.5L1616.5 2652.9L1617.9 2653.2L1619.4 2653.5L1620.9 2653.9L1622.4 2654.2L1623.9 2654.5L1625.3 2654.8L1626.8 2655.1L1628.3 2655.4L1629.8 2655.7L1631.3 2656.0L1632.8 2656.3L1634.3 2656.6L1635.8 2656.9L1637.3 2657.2L1638.8 2657.5L1640.2 2657.8L1641.7 2658.1L1643.2 2658.4L1644.7 2658.7L1646.2 2659.0L1646.4 2659.0M1679.4 2665.8L1680.6 2665.9L1682.1 2666.1L1683.7 2666.3L1685.2 2666.4L1686.8 2666.5L1688.4 2666.7L1690.0 2666.8L1691.5 2666.9L1693.1 2667.0L1694.7 2667.1L1696.3 2667.2L1697.8 2667.3L1699.4 2667.3L1701.0 2667.4L1702.5 2667.5L1704.1 2667.6L1705.6 2667.6L1707.2 2667.7L1708.7 2667.8L1710.2 2667.9L1711.7 2668.0L1711.9 2668.0M1744.9 2670.3L1746.2 2670.3L1747.7 2670.3L1749.2 2670.3L1750.7 2670.4L1752.2 2670.4L1753.7 2670.4L1755.2 2670.4L1756.7 2670.4L1758.2 2670.3L1759.7 2670.3L1761.3 2670.3L1762.8 2670.3L1764.3 2670.3L1765.8 2670.3L1767.3 2670.2L1768.8 2670.2L1770.3 2670.2L1771.8 2670.2L1773.3 2670.2L1774.8 2670.2L1776.2 2670.2L1777.4 2670.2M1810.4 2670.2L1811.8 2670.2L1813.3 2670.2L1814.9 2670.2L1816.4 2670.2L1818.0 2670.2L1819.5 2670.2L1821.1 2670.2L1822.6 2670.3L1824.2 2670.3L1825.7 2670.3L1827.3 2670.3L1828.8 2670.3L1830.4 2670.3L1831.9 2670.3L1833.4 2670.3L1835.0 2670.3L1836.5 2670.3L1838.0 2670.3L1839.5 2670.2L1841.0 2670.2L1842.5 2670.2L1842.9 2670.2M1875.9 2669.1L1876.7 2669.0L1878.2 2669.0L1879.7 2668.9L1881.2 2668.9L1882.7 2668.8L1884.2 2668.8L1885.7 2668.7L1887.2 2668.6L1888.7 2668.6L1890.2 2668.5L1891.8 2668.5L1893.3 2668.4L1894.8 2668.3L1896.3 2668.3L1897.8 2668.2L1899.3 2668.2L1900.8 2668.1L1902.3 2668.1L1903.8 2668.1L1905.3 2668.0L1906.8 2668.0L1907.9 2668.0L1908.4 2668.0M1941.4 2668.0L1942.5 2668.0L1944.2 2668.0L1945.8 2668.0L1947.4 2668.0L1948.9 2668.0L1950.5 2668.0L1952.0 2668.0" stroke="#ff0000" stroke-width="6" stroke-linejoin="round" fill="none"/>
<path d="M448.6 2732.0h0.01M480.0 2731.9h0.01M511.4 2731.8h0.01M542.8 2731.8h0.01M574.2 2731.7h0.01M605.6 2731.7h0.01M637.0 2731.7h0.01M668.4 2731.6h0.01M699.8 2731.6h0.01M731.2 2731.5h0.01M762.6 2731.4h0.01M794.0 2731.3h0.01M825.4 2731.1h0.01M856.8 2724.0h0.01M880.8 2694.7h0.01M898.0 2663.3h0.01M926.0 2637.9h0.01M957.4 2658.8h0.01M988.8 2687.1h0.01M1020.2 2704.5h0.01M1051.6 2713.8h0.01M1083.0 2719.4h0.01M1114.4 2720.7h0.01M1145.8 2720.7h0.01M1177.2 2720.7h0.01M1208.6 2720.7h0.01M1240.0 2719.3h0.01M1271.4 2718.2h0.01M1302.8 2716.0h0.01M1334.2 2711.5h0.01M1365.6 2709.3h0.01M1397.0 2707.1h0.01M1428.4 2705.0h0.01M1459.8 2706.1h0.01M1491.2 2703.9h0.01M1522.6 2703.9h0.01M1554.0 2703.9h0.01M1585.4 2702.8h0.01M1616.8 2704.1h0.01M1648.2 2705.2h0.01M1679.6 2705.2h0.01M1711.0 2705.2h0.01M1742.4 2705.2h0.01M1773.8 2705.2h0.01M1805.2 2705.2h0.01M1836.6 2704.1h0.01M1868.0 2705.2h0.01M1899.4 2704.0h0.01M1930.8 2703.0h0.01" stroke="#008000" stroke-width="19" stroke-linecap="round" fill="none"/>
<path d="M430.0 2731.0L431.5 2731.0L433.0 2731.0L434.5 2731.0L436.1 2731.0L437.6 2731.0L439.2 2731.0L440.7 2731.0L442.3 2731.0L443.9 2731.0L445.5 2731.0L447.1 2731.0L448.7 2731.0L450.3 2731.0L451.9 2731.0L453.5 2731.0L455.1 2731.0L456.8 2731.0L456.8 2731.0M473.8 2730.9L475.4 2730.9L477.1 2730.9L478.8 2730.9L480.6 2730.9L480.8 2730.9M499.2 2730.9L500.2 2730.9L502.0 2730.9L503.8 2730.9L505.7 2730.9L507.5 2730.9L509.3 2730.9L511.2 2730.9L513.0 2730.9L514.9 2730.9L516.7 2730.9L518.6 2730.9L520.5 2730.9L522.3 2730.9L524.2 2730.9L526.1 2730.9L528.0 2730.9L529.9 2730.9L531.8 2730.9L533.7 2730.9L535.6 2730.9L537.5 2730.9L539.2 2730.9M556.2 2730.9L556.8 2730.9L558.7 2730.9L560.6 2730.9L562.6 2730.9L563.2 2730.9M581.6 2730.9L582.2 2730.9L584.2 2730.9L586.2 2730.9L588.1 2730.9L590.1 2730.9L592.1 2730.9L594.1 2730.9L596.1 2730.9L598.0 2730.9L600.0 2730.9L602.0 2730.9L604.0 2730.9L606.0 2730.9L608.0 2730.9L609.9 2730.9L611.9 2730.9L613.9 2730.9L615.9 2730.9L617.9 2730.9L619.9 2730.9L621.6 2730.9M638.6 2730.9L639.7 2730.9L641.7 2730.9L643.7 2730.9L645.6 2730.9M664.0 2730.9L665.4 2730.9L667.3 2730.9L669.3 2730.9L671.2 2730.9L673.2 2730.9L675.2 2730.9L677.1 2730.9L679.0 2730.9L681.0 2730.9L682.9 2730.9L684.9 2730.9L686.8 2730.9L688.7 2730.9L690.7 2730.9L692.6 2730.9L694.5 2730.9L696.4 2730.9L698.3 2730.9L700.2 2730.9L702.1 2730.9L704.0 2730.9M721.0 2730.9L722.8 2730.9L724.7 2730.9L726.5 2730.9L728.0 2730.9M746.4 2730.9L746.5 2730.9L748.3 2730.9L750.1 2730.9L751.8 2730.9L753.6 2730.9L755.4 2730.9L757.1 2730.9L758.8 2730.9L760.6 2730.9L762.3 2730.9L764.0 2730.9L765.8 2730.9L767.5 2730.9L769.2 2730.9L770.9 2730.9L772.5 2730.9L774.2 2730.9L775.9 2730.9L777.6 2730.9L779.2 2730.9L780.9 2730.9L782.5 2730.9L784.1 2730.9L785.8 2730.9L786.4 2730.9M803.4 2730.8L804.6 2730.8L806.1 2730.8L807.6 2730.8L809.1 2730.8L810.4 2730.8M828.8 2730.8L828.9 2730.8L830.3 2730.8L831.6 2730.7L832.9 2730.7L834.2 2730.7L835.5 2730.7L836.8 2730.7L838.1 2730.7L839.3 2730.7L840.6 2730.7L841.8 2730.7L843.1 2730.7L844.3 2730.7L845.5 2730.7L846.7 2730.7L847.8 2730.7L849.0 2730.7L850.2 2730.7L851.3 2730.7L852.4 2730.7L853.5 2730.7L854.6 2730.6L855.7 2730.6L856.8 2730.6L857.9 2730.6L858.9 2730.6L860.0 2730.6L861.0 2730.6L862.0 2730.6L863.0 2730.6L864.0 2730.6L865.0 2730.6L865.9 2730.6L866.9 2730.6L867.8 2730.6L868.7 2730.6L868.8 2730.6M885.8 2730.4L886.3 2730.3L886.9 2730.3L887.4 2730.3L887.9 2730.3L888.4 2730.3L888.8 2730.3L889.3 2730.3L889.7 2730.3L890.2 2730.3L890.6 2730.2L891.0 2730.2L891.3 2730.2L891.7 2730.2L892.0 2730.2L892.3 2730.2L892.6 2730.2L892.8 2730.2M911.2 2716.6L911.7 2716.1L912.2 2715.6L912.8 2714.8L913.5 2714.0L914.3 2712.9L915.2 2711.8L916.2 2710.5L917.3 2709.2L918.3 2707.8L919.5 2706.3L920.6 2704.9L921.7 2703.4L922.8 2702.0L923.9 2700.6L925.0 2699.2L926.0 2698.0L926.9 2696.8L928.0 2695.6L929.0 2694.4L930.1 2693.1L931.2 2691.7L932.4 2690.4L933.5 2689.1L934.7 2687.7L935.8 2686.4L936.8 2685.2L937.8 2684.0L938.8 2682.8L939.7 2681.8L940.5 2680.8L941.2 2679.9L941.8 2679.2L942.8 2677.9L943.7 2676.6M958.4 2662.3L959.0 2662.0L960.5 2661.4L962.0 2660.9L963.5 2660.4L965.0 2660.0L965.4 2659.9M983.8 2659.4L983.8 2659.4L985.4 2659.7L986.7 2660.0L988.1 2660.5L989.5 2661.0L990.8 2661.5L992.3 2662.2L993.7 2662.9L995.1 2663.6L996.5 2664.3L998.0 2665.1L999.4 2665.9L1000.8 2666.7L1002.2 2667.5L1003.6 2668.3L1005.0 2669.0L1006.3 2669.7L1007.6 2670.5L1009.0 2671.2L1010.3 2672.1L1011.7 2672.9L1013.1 2673.7L1014.4 2674.6L1015.8 2675.4L1017.1 2676.3L1018.4 2677.1L1019.7 2677.9L1021.0 2678.7L1022.2 2679.4L1023.4 2680.1L1023.8 2680.4M1040.8 2689.7L1041.0 2689.8L1042.4 2690.8L1043.8 2691.8L1045.1 2692.9L1046.4 2694.0L1047.8 2694.9M1066.2 2701.8L1067.2 2702.1L1068.9 2702.6L1070.5 2703.1L1071.5 2703.4L1072.7 2703.7L1074.0 2704.1L1075.3 2704.5L1076.8 2704.9L1078.3 2705.3L1079.9 2705.7L1081.5 2706.1L1083.2 2706.6L1084.9 2707.0L1086.6 2707.5L1088.3 2707.9L1090.0 2708.4L1091.7 2708.8L1093.3 2709.2L1094.9 2709.7L1096.5 2710.1L1098.0 2710.5L1099.4 2710.9L1100.7 2711.2L1101.9 2711.6L1103.0 2711.9L1104.5 2712.4L1106.1 2712.9L1106.2 2712.9M1123.2 2718.9L1124.3 2719.1L1125.6 2719.4L1127.1 2719.6L1128.7 2719.7L1130.2 2719.8M1148.6 2719.5L1149.1 2719.5L1150.4 2719.5L1151.9 2719.6L1153.5 2719.6L1155.1 2719.7L1156.8 2719.7L1158.5 2719.8L1160.3 2719.9L1162.1 2719.9L1164.0 2720.0L1165.8 2720.1L1167.6 2720.1L1169.4 2720.2L1171.1 2720.2L1172.8 2720.3L1174.4 2720.4L1176.0 2720.4L1177.4 2720.4L1178.8 2720.5L1180.0 2720.5L1181.5 2720.5L1183.0 2720.6L1184.6 2720.6L1186.1 2720.6L1187.6 2720.6L1188.6 2720.7M1205.6 2720.7L1205.8 2720.7L1206.5 2720.7L1207.3 2720.7L1208.2 2720.6L1209.3 2720.6L1210.4 2720.6L1211.6 2720.5L1212.6 2720.5M1231.0 2719.8L1231.6 2719.8L1233.5 2719.7L1235.5 2719.6L1237.4 2719.5L1239.4 2719.5L1241.3 2719.4L1243.2 2719.3L1245.1 2719.2L1247.0 2719.1L1248.9 2719.1L1250.7 2719.0L1252.5 2718.9L1254.2 2718.8L1255.9 2718.8L1257.5 2718.7L1259.1 2718.6L1260.6 2718.6L1262.0 2718.5L1263.3 2718.4L1264.5 2718.4L1265.7 2718.3L1266.7 2718.3L1267.7 2718.2L1268.5 2718.2L1270.0 2718.1L1271.0 2718.1M1288.0 2717.1L1288.8 2717.1L1290.3 2717.0L1291.8 2716.9L1293.3 2716.8L1294.7 2716.7L1295.0 2716.7M1313.4 2716.2L1313.7 2716.2L1315.2 2716.1L1316.7 2716.1L1318.2 2716.1L1319.7 2716.1L1321.2 2716.0L1322.8 2716.0L1324.3 2716.0L1325.8 2716.0L1327.4 2716.0L1329.0 2716.0L1330.7 2716.0L1332.4 2716.0L1334.1 2716.0L1335.9 2716.0L1337.6 2716.1L1339.4 2716.1L1341.1 2716.1L1342.8 2716.1L1344.4 2716.1L1345.9 2716.1L1347.4 2716.1L1348.7 2716.1L1350.0 2716.1L1351.1 2716.0L1352.1 2716.0L1353.4 2715.9M1370.4 2714.2L1370.6 2714.2L1372.2 2714.2L1373.7 2714.3L1375.3 2714.3L1376.8 2714.3L1377.4 2714.3M1395.8 2711.5L1396.4 2711.5L1397.7 2711.5L1399.0 2711.5L1400.5 2711.5L1402.2 2711.5L1403.9 2711.5L1405.7 2711.5L1407.6 2711.5L1409.6 2711.5L1411.6 2711.5L1413.6 2711.6L1415.6 2711.6L1417.6 2711.6L1419.6 2711.6L1421.6 2711.6L1423.5 2711.7L1425.3 2711.7L1427.0 2711.7L1428.7 2711.7L1430.2 2711.7L1431.6 2711.7L1432.8 2711.7L1433.8 2711.7L1434.7 2711.6L1435.4 2711.6L1435.8 2711.6M1452.8 2709.3L1453.9 2709.3L1455.5 2709.3L1457.1 2709.4L1458.7 2709.4L1459.8 2709.4M1478.2 2708.3L1478.7 2708.3L1479.8 2708.3L1481.0 2708.3L1482.4 2708.3L1483.9 2708.3L1485.5 2708.3L1487.3 2708.3L1489.1 2708.3L1491.0 2708.3L1492.9 2708.3L1494.9 2708.4L1496.8 2708.4L1498.8 2708.4L1500.8 2708.4L1502.7 2708.4L1504.6 2708.4L1506.4 2708.4L1508.1 2708.4L1509.8 2708.4L1511.3 2708.4L1512.7 2708.4L1513.9 2708.4L1515.0 2708.4L1515.9 2708.3L1516.6 2708.3L1518.2 2708.2L1518.2 2708.2M1535.2 2706.0L1536.8 2706.0L1538.5 2706.0L1540.1 2706.1L1541.8 2706.1L1542.2 2706.1M1560.6 2706.8L1560.6 2706.8L1561.7 2706.8L1562.8 2706.8L1564.1 2706.9L1565.4 2706.9L1566.8 2706.9L1568.4 2706.9L1569.9 2706.9L1571.6 2706.9L1573.3 2706.9L1575.0 2706.9L1576.8 2706.9L1578.6 2706.9L1580.4 2706.8L1582.3 2706.8L1584.1 2706.8L1586.0 2706.8L1587.8 2706.8L1589.7 2706.8L1591.5 2706.8L1593.2 2706.8L1595.0 2706.8L1596.7 2706.8L1598.3 2706.8L1599.9 2706.8L1600.6 2706.8L1600.6 2706.8M1617.6 2706.7L1618.8 2706.7L1620.2 2706.7L1621.6 2706.7L1623.1 2706.7L1624.6 2706.7M1643.0 2706.6L1644.4 2706.6L1646.2 2706.5L1647.9 2706.5L1649.7 2706.5L1651.5 2706.5L1653.3 2706.5L1655.1 2706.5L1656.9 2706.5L1658.7 2706.5L1660.5 2706.5L1662.3 2706.5L1664.1 2706.4L1665.9 2706.4L1667.8 2706.4L1669.6 2706.4L1671.4 2706.4L1673.1 2706.4L1674.9 2706.4L1676.7 2706.4L1678.5 2706.4L1680.2 2706.4L1682.0 2706.4L1683.0 2706.4M1700.0 2706.3L1701.5 2706.3L1703.0 2706.3L1704.5 2706.3L1706.1 2706.3L1707.0 2706.3M1725.4 2706.3L1725.8 2706.3L1727.3 2706.3L1728.8 2706.3L1730.3 2706.3L1731.8 2706.3L1733.3 2706.3L1734.8 2706.3L1736.4 2706.3L1737.9 2706.3L1739.4 2706.3L1740.9 2706.3L1742.4 2706.3L1743.9 2706.3L1745.5 2706.3L1747.0 2706.3L1748.5 2706.3L1750.0 2706.3L1751.5 2706.3L1753.0 2706.3L1754.5 2706.3L1756.1 2706.3L1757.6 2706.3L1759.1 2706.3L1760.6 2706.3L1762.1 2706.3L1763.6 2706.3L1765.2 2706.3L1765.4 2706.3M1782.4 2706.3L1783.3 2706.3L1784.8 2706.3L1786.4 2706.3L1787.9 2706.3L1789.4 2706.3L1789.4 2706.3M1807.8 2706.3L1808.5 2706.3L1809.7 2706.3L1810.9 2706.3L1812.1 2706.3L1813.3 2706.3L1814.5 2706.3L1815.7 2706.3L1817.0 2706.3L1818.2 2706.3L1819.5 2706.3L1820.8 2706.3L1822.1 2706.3L1823.5 2706.3L1824.8 2706.3L1826.2 2706.3L1827.6 2706.3L1828.9 2706.3L1830.3 2706.3L1831.7 2706.3L1833.2 2706.2L1834.6 2706.2L1836.1 2706.2L1837.5 2706.2L1839.0 2706.2L1840.5 2706.2L1842.0 2706.2L1843.5 2706.2L1845.0 2706.2L1846.5 2706.2L1847.8 2706.2M1864.8 2706.2L1865.4 2706.2L1867.1 2706.2L1868.7 2706.2L1870.3 2706.2L1871.8 2706.2M1890.2 2706.1L1890.2 2706.1L1891.9 2706.1L1893.6 2706.1L1895.2 2706.1L1896.9 2706.1L1898.6 2706.1L1900.3 2706.1L1902.0 2706.1L1903.6 2706.1L1905.3 2706.1L1907.0 2706.1L1908.6 2706.1L1910.3 2706.1L1912.0 2706.1L1913.6 2706.1L1915.3 2706.1L1917.0 2706.1L1918.6 2706.1L1920.3 2706.1L1921.9 2706.1L1923.6 2706.1L1925.2 2706.1L1926.8 2706.1L1928.4 2706.0L1930.1 2706.0L1930.2 2706.0M1947.2 2706.0L1947.4 2706.0L1949.0 2706.0L1950.5 2706.0L1952.0 2706.0" stroke="#0000ff" stroke-width="7" stroke-linejoin="round" fill="none"/>
<path d="M430.0 2731.0L431.5 2731.0L433.0 2731.0L434.5 2731.0L436.1 2731.0L437.6 2731.0L439.2 2731.0L440.7 2731.0L442.3 2731.0L443.9 2731.0L445.4 2731.0L447.0 2731.0L448.6 2730.9L450.2 2730.9L451.8 2730.9L453.4 2730.9L455.1 2730.9L456.7 2730.9L458.3 2730.9L460.0 2730.9L460.0 2730.9M475.5 2730.9L476.8 2730.9L478.6 2730.9L480.3 2730.9L482.0 2730.9L483.8 2730.9L485.5 2730.9M501.0 2730.8L501.5 2730.8L503.3 2730.8L505.1 2730.8L506.9 2730.8L508.7 2730.8L510.6 2730.8L512.0 2730.8M527.6 2730.8L529.1 2730.8L530.9 2730.8L532.8 2730.8L534.7 2730.8L536.6 2730.8L538.5 2730.8L540.4 2730.8L542.3 2730.8L544.2 2730.8L546.1 2730.7L548.0 2730.7L549.9 2730.7L551.8 2730.7L553.7 2730.7L555.6 2730.7L557.6 2730.7L557.6 2730.7M573.1 2730.7L575.0 2730.7L577.0 2730.7L578.9 2730.7L580.9 2730.7L582.9 2730.7L583.1 2730.7M598.6 2730.7L598.6 2730.7L600.6 2730.7L602.6 2730.7L604.5 2730.7L606.5 2730.7L608.5 2730.6L609.6 2730.6M625.2 2730.6L626.4 2730.6L628.4 2730.6L630.4 2730.6L632.4 2730.6L634.4 2730.6L636.3 2730.6L638.3 2730.6L640.3 2730.6L642.3 2730.6L644.3 2730.6L646.3 2730.6L648.3 2730.6L650.3 2730.6L652.3 2730.6L654.3 2730.6L655.2 2730.6M670.7 2730.6L672.1 2730.5L674.1 2730.5L676.1 2730.5L678.1 2730.5L680.0 2730.5L680.7 2730.5M696.2 2730.5L697.7 2730.5L699.7 2730.5L701.7 2730.5L703.6 2730.5L705.6 2730.5L707.2 2730.5M722.8 2730.5L723.0 2730.5L724.9 2730.5L726.8 2730.5L728.7 2730.5L730.7 2730.5L732.6 2730.5L734.5 2730.4L736.4 2730.4L738.3 2730.4L740.2 2730.4L742.0 2730.4L743.9 2730.4L745.8 2730.4L747.7 2730.4L749.6 2730.4L751.4 2730.4L752.8 2730.4M768.3 2730.4L769.9 2730.4L771.7 2730.4L773.5 2730.4L775.3 2730.4L777.1 2730.4L778.3 2730.4M793.8 2730.3L794.8 2730.3L796.5 2730.3L798.3 2730.3L800.0 2730.3L801.7 2730.3L803.4 2730.3L804.8 2730.3M820.4 2730.3L821.8 2730.3L823.5 2730.3L825.1 2730.3L826.7 2730.3L828.3 2730.3L829.9 2730.3L831.5 2730.2L833.1 2730.2L834.7 2730.2L836.2 2730.2L837.8 2730.2L839.3 2730.2L840.9 2730.2L842.4 2730.2L844.0 2730.2L845.5 2730.2L847.0 2730.2L848.5 2730.2L850.0 2730.2L850.4 2730.2M865.9 2730.1L867.2 2730.1L868.6 2730.1L870.0 2730.1L871.3 2730.1L872.7 2730.1L874.0 2730.1L875.3 2730.1L875.9 2730.1M891.4 2730.0L891.6 2730.0L892.8 2730.0L894.0 2730.0L895.1 2730.0L896.3 2730.0L897.4 2730.0L898.6 2730.0L899.7 2730.0L900.8 2730.0L901.9 2730.0L902.4 2730.0M918.0 2729.9L918.5 2729.9L919.4 2729.9L920.2 2729.9L921.1 2729.9L921.9 2729.9L922.7 2729.9L923.5 2729.9L924.3 2729.9L925.1 2729.9L925.9 2729.8L926.6 2729.8L927.3 2729.8L928.1 2729.8L928.8 2729.8L929.5 2729.8L930.1 2729.8L930.8 2729.8L931.5 2729.8L932.1 2729.8L932.7 2729.8L933.3 2729.8L933.9 2729.8L934.5 2729.8L935.1 2729.8L935.6 2729.7L936.1 2729.7L936.7 2729.7L937.2 2729.7L937.7 2729.7L938.1 2729.7L938.6 2729.7L939.0 2729.7L939.5 2729.7L939.9 2729.7L940.3 2729.7L940.7 2729.7L941.0 2729.7L941.4 2729.7L941.7 2729.6L942.0 2729.6L942.3 2729.6L942.6 2729.6L942.9 2729.6L943.2 2729.6L943.4 2729.6L943.6 2729.6L943.8 2729.6L944.0 2729.6L944.2 2729.6L944.4 2729.6L944.5 2729.5L944.6 2729.5L944.7 2729.5L944.8 2729.5L944.9 2729.5L945.0 2729.5L945.0 2729.5L946.6 2729.0L948.0 2728.3M963.5 2718.6L963.9 2718.4L965.3 2717.8L966.8 2717.2L968.2 2716.6L969.6 2716.0L970.4 2715.6L971.5 2715.0L972.8 2714.3L973.5 2713.9M989.0 2705.4L989.2 2705.3L990.6 2704.7L992.1 2704.2L993.7 2703.6L995.2 2703.1L996.7 2702.6L997.6 2702.3L998.8 2701.9L1000.0 2701.6M1015.6 2697.5L1017.1 2697.3L1018.8 2697.1L1020.5 2697.0L1022.2 2696.9L1023.9 2696.9L1025.5 2696.9L1027.1 2696.9L1028.6 2696.9L1030.0 2697.0L1031.7 2697.1L1033.4 2697.4L1035.1 2697.7L1036.7 2698.0L1038.4 2698.3L1040.1 2698.6L1041.8 2698.8L1042.9 2698.9L1044.4 2699.1L1045.6 2699.2M1061.1 2700.7L1061.8 2700.7L1063.0 2700.8L1064.3 2701.0L1065.5 2701.1L1066.8 2701.3L1068.0 2701.5L1068.8 2701.7L1069.9 2702.0L1071.1 2702.4M1086.6 2707.1L1087.2 2707.2L1088.8 2707.4L1090.5 2707.5L1092.2 2707.6L1093.8 2707.8L1095.5 2708.0L1096.4 2708.2L1097.5 2708.4L1097.6 2708.4M1113.2 2711.9L1114.1 2712.1L1115.3 2712.3L1116.6 2712.5L1117.9 2712.7L1119.3 2712.9L1120.8 2713.2L1122.4 2713.4L1124.0 2713.6L1125.7 2713.9L1127.3 2714.1L1129.0 2714.3L1130.7 2714.6L1132.5 2714.8L1134.2 2715.0L1135.9 2715.2L1137.5 2715.4L1139.1 2715.5L1140.7 2715.7L1142.0 2715.8L1143.2 2715.9M1158.7 2716.7L1160.3 2716.8L1162.0 2716.8L1163.6 2716.9L1165.3 2717.0L1166.9 2717.0L1168.6 2717.1L1168.7 2717.1M1184.2 2718.3L1184.5 2718.3L1186.2 2718.5L1187.9 2718.7L1189.6 2718.8L1191.2 2719.0L1192.9 2719.2L1194.6 2719.3L1195.2 2719.4M1210.8 2720.7L1212.3 2720.8L1213.9 2720.8L1215.4 2720.9L1216.9 2720.9L1218.5 2720.9L1220.0 2720.9L1221.5 2720.9L1223.1 2720.9L1224.6 2720.9L1226.1 2720.9L1227.7 2720.9L1229.2 2720.9L1230.7 2720.8L1232.3 2720.8L1233.8 2720.8L1235.3 2720.8L1236.9 2720.7L1238.4 2720.7L1239.7 2720.7L1240.8 2720.6M1256.3 2720.0L1257.6 2720.0L1259.2 2719.9L1260.7 2719.8L1262.3 2719.8L1263.9 2719.7L1265.4 2719.7L1266.3 2719.6M1281.8 2719.2L1283.2 2719.2L1284.9 2719.1L1286.7 2719.1L1288.4 2719.0L1290.2 2719.0L1292.0 2719.0L1292.8 2719.0M1308.4 2718.7L1309.3 2718.6L1310.5 2718.6L1311.6 2718.6L1312.6 2718.6L1314.1 2718.6L1315.7 2718.6L1317.2 2718.6L1318.8 2718.6L1320.3 2718.6L1321.9 2718.6L1323.4 2718.6L1325.0 2718.6L1326.5 2718.6L1328.1 2718.6L1329.6 2718.6L1331.2 2718.6L1332.7 2718.6L1334.3 2718.6L1335.8 2718.6L1337.4 2718.6L1338.4 2718.6M1353.9 2718.3L1354.2 2718.3L1355.9 2718.2L1357.7 2718.2L1359.5 2718.2L1361.3 2718.1L1363.2 2718.1L1363.9 2718.1M1379.4 2717.7L1380.7 2717.7L1382.7 2717.6L1384.6 2717.6L1386.5 2717.5L1388.4 2717.5L1390.3 2717.4L1390.4 2717.4M1406.0 2717.1L1407.0 2717.1L1408.0 2717.1L1409.0 2717.0L1409.9 2717.0L1410.6 2717.0L1411.3 2717.0L1412.8 2717.0L1414.3 2717.0L1415.8 2717.0L1417.3 2717.0L1418.8 2717.0L1420.3 2717.0L1421.8 2717.0L1423.3 2717.0L1424.8 2717.0L1426.3 2717.0L1427.8 2717.0L1429.3 2717.0L1430.8 2717.0L1432.3 2717.0L1433.8 2717.0L1435.3 2717.0L1436.0 2717.0M1451.5 2716.7L1452.4 2716.7L1454.0 2716.6L1455.6 2716.6L1457.3 2716.5L1459.1 2716.4L1460.9 2716.4L1461.5 2716.4M1477.0 2715.9L1477.9 2715.8L1479.9 2715.8L1481.8 2715.7L1483.6 2715.6L1485.5 2715.6L1487.3 2715.5L1488.0 2715.5M1503.6 2715.0L1504.3 2715.0L1505.4 2715.0L1506.4 2715.0L1507.3 2714.9L1508.2 2714.9L1508.9 2714.9L1510.4 2714.9L1512.0 2714.9L1513.5 2714.9L1515.0 2714.9L1516.6 2714.9L1518.1 2714.9L1519.6 2714.9L1521.2 2714.9L1522.7 2714.9L1524.2 2714.9L1525.8 2714.9L1527.3 2714.9L1528.9 2714.9L1530.4 2714.9L1531.9 2714.9L1533.5 2714.9L1533.6 2714.9M1549.1 2714.7L1549.8 2714.7L1551.3 2714.6L1552.8 2714.6L1554.3 2714.5L1555.9 2714.5L1557.5 2714.4L1559.1 2714.4L1559.1 2714.4M1574.6 2714.0L1575.6 2713.9L1577.2 2713.9L1578.8 2713.9L1580.4 2713.8L1582.0 2713.8L1583.5 2713.8L1584.1 2713.8L1584.7 2713.8L1585.5 2713.8L1585.6 2713.8M1601.2 2713.8L1601.5 2713.8L1602.8 2713.8L1604.3 2713.8L1605.7 2713.8L1607.2 2713.8L1608.7 2713.8L1610.2 2713.8L1611.8 2713.8L1613.3 2713.8L1614.9 2713.8L1616.6 2713.8L1618.2 2713.8L1619.9 2713.9L1621.6 2713.9L1623.3 2713.9L1625.0 2713.9L1626.7 2713.9L1628.5 2713.9L1630.3 2713.9L1631.2 2713.9M1646.7 2714.0L1648.4 2714.0L1650.3 2714.0L1652.1 2714.0L1654.0 2714.0L1655.8 2714.0L1656.7 2714.0M1672.2 2714.1L1673.7 2714.1L1675.5 2714.1L1677.2 2714.1L1678.9 2714.1L1680.5 2714.1L1682.2 2714.1L1683.2 2714.1M1698.8 2714.2L1700.0 2714.2L1701.5 2714.2L1703.0 2714.2L1704.5 2714.2L1706.1 2714.2L1707.6 2714.2L1709.1 2714.2L1710.6 2714.2L1712.1 2714.2L1713.6 2714.2L1715.2 2714.2L1716.7 2714.2L1718.2 2714.2L1719.7 2714.2L1721.2 2714.2L1722.7 2714.2L1724.2 2714.2L1725.8 2714.2L1727.3 2714.2L1728.8 2714.2L1728.8 2714.2M1744.3 2714.2L1745.5 2714.2L1747.0 2714.2L1748.5 2714.2L1750.0 2714.2L1751.5 2714.2L1753.0 2714.2L1754.3 2714.2M1769.8 2714.2L1771.2 2714.2L1772.7 2714.2L1774.2 2714.2L1775.8 2714.2L1777.3 2714.2L1778.8 2714.2L1780.3 2714.2L1780.8 2714.2M1796.4 2714.2L1797.0 2714.2L1798.5 2714.2L1800.0 2714.2L1801.0 2714.2L1802.0 2714.2L1803.1 2714.2L1804.1 2714.2L1805.2 2714.2L1806.3 2714.2L1807.4 2714.2L1808.5 2714.2L1809.7 2714.2L1810.9 2714.2L1812.1 2714.2L1813.3 2714.2L1814.5 2714.2L1815.7 2714.2L1817.0 2714.2L1818.2 2714.2L1819.5 2714.2L1820.8 2714.2L1822.1 2714.2L1823.5 2714.2L1824.8 2714.2L1826.2 2714.2L1826.4 2714.2M1841.9 2714.2L1842.0 2714.2L1843.5 2714.2L1845.0 2714.2L1846.5 2714.1L1848.0 2714.1L1849.6 2714.1L1851.1 2714.1L1851.9 2714.1M1867.4 2714.1L1868.7 2714.1L1870.3 2714.1L1872.0 2714.1L1873.6 2714.1L1875.2 2714.1L1876.9 2714.1L1878.4 2714.1M1894.0 2714.1L1895.2 2714.1L1896.9 2714.1L1898.6 2714.1L1900.3 2714.1L1902.0 2714.1L1903.6 2714.1L1905.3 2714.1L1907.0 2714.1L1908.6 2714.1L1910.3 2714.1L1912.0 2714.1L1913.6 2714.1L1915.3 2714.1L1917.0 2714.0L1918.6 2714.0L1920.3 2714.0L1921.9 2714.0L1923.6 2714.0L1924.0 2714.0M1939.5 2714.0L1939.7 2714.0L1941.2 2714.0L1942.8 2714.0L1944.4 2714.0L1945.9 2714.0L1947.4 2714.0L1949.0 2714.0L1949.5 2714.0" stroke="#ff8000" stroke-width="5.5" stroke-linejoin="round" fill="none"/>
</g>
<text transform="translate(380.0,150.3) scale(1.05,1)" font-family="'Liberation Serif','Times New Roman',serif" font-size="74" text-anchor="end" fill="#000">300</text>
<text transform="translate(380.0,439.3) scale(1.05,1)" font-family="'Liberation Serif','Times New Roman',serif" font-size="74" text-anchor="end" fill="#000">200</text>
<text transform="translate(380.0,727.8) scale(1.05,1)" font-family="'Liberation Serif','Times New Roman',serif" font-size="74" text-anchor="end" fill="#000">100</text>
<text transform="translate(380.0,1016.3) scale(1.05,1)" font-family="'Liberation Serif','Times New Roman',serif" font-size="74" text-anchor="end" fill="#000">0</text>
<text transform="translate(380.0,1174.3) scale(1.05,1)" font-family="'Liberation Serif','Times New Roman',serif" font-size="74" text-anchor="end" fill="#000">450</text>
<text transform="translate(380.0,1411.3) scale(1.05,1)" font-family="'Liberation Serif','Times New Roman',serif" font-size="74" text-anchor="end" fill="#000">300</text>
<text transform="translate(380.0,1647.3) scale(1.05,1)" font-family="'Liberation Serif','Times New Roman',serif" font-size="74" text-anchor="end" fill="#000">150</text>
<text transform="translate(380.0,1884.3) scale(1.05,1)" font-family="'Liberation Serif','Times New Roman',serif" font-size="74" text-anchor="end" fill="#000">0</text>
<text transform="translate(380.0,2057.3) scale(1.05,1)" font-family="'Liberation Serif','Times New Roman',serif" font-size="74" text-anchor="end" fill="#000">30</text>
<text transform="translate(380.0,2286.3) scale(1.05,1)" font-family="'Liberation Serif','Times New Roman',serif" font-size="74" text-anchor="end" fill="#000">20</text>
<text transform="translate(380.0,2519.3) scale(1.05,1)" font-family="'Liberation Serif','Times New Roman',serif" font-size="74" text-anchor="end" fill="#000">10</text>
<text transform="translate(380.0,2749.3) scale(1.05,1)" font-family="'Liberation Serif','Times New Roman',serif" font-size="74" text-anchor="end" fill="#000">0</text>
<text transform="translate(427.5,2835) scale(1.05,1)" font-family="'Liberation Serif','Times New Roman',serif" font-size="74" text-anchor="middle" fill="#000">1</text>
<text transform="translate(732.5,2835) scale(1.05,1)" font-family="'Liberation Serif','Times New Roman',serif" font-size="74" text-anchor="middle" fill="#000">2</text>
<text transform="translate(1037.5,2835) scale(1.05,1)" font-family="'Liberation Serif','Times New Roman',serif" font-size="74" text-anchor="middle" fill="#000">3</text>
<text transform="translate(1342.5,2835) scale(1.05,1)" font-family="'Liberation Serif','Times New Roman',serif" font-size="74" text-anchor="middle" fill="#000">4</text>
<text transform="translate(1647.5,2835) scale(1.05,1)" font-family="'Liberation Serif','Times New Roman',serif" font-size="74" text-anchor="middle" fill="#000">5</text>
<text transform="translate(1952.5,2835) scale(1.05,1)" font-family="'Liberation Serif','Times New Roman',serif" font-size="74" text-anchor="middle" fill="#000">6</text>
<text font-family="'Liberation Serif','Times New Roman',serif" fill="#000"><tspan x="1397.6" y="2911.0" font-size="114" font-style="italic">r</tspan><tspan x="1442.8" y="2911.0" font-size="114">/</tspan><tspan x="1473.4" y="2911.0" font-size="114">Å</tspan></text>
<text transform="rotate(-90) scale(1.22,1)" x="-469.5" y="172.8" font-family="'Liberation Serif','Times New Roman',serif" font-size="109" fill="#000">g</text>
<text transform="rotate(-90)" font-family="'Liberation Serif','Times New Roman',serif" fill="#000"><tspan x="-509.9" y="216.6" font-size="71.5">+</tspan><tspan x="-470.0" y="216.6" font-size="71.5">S</tspan><tspan x="-432.9" y="171.5" font-size="117">(</tspan><tspan x="-397.9" y="171.5" font-size="117" font-style="italic">r</tspan><tspan x="-354.8" y="171.5" font-size="117">)</tspan></text>
<text transform="rotate(-90) scale(1.22,1)" x="-1063.6" y="177.8" font-family="'Liberation Serif','Times New Roman',serif" font-size="109" fill="#000">g</text>
<text transform="rotate(-90)" font-family="'Liberation Serif','Times New Roman',serif" fill="#000"><tspan x="-1234.6" y="221.8" font-size="71.5">+</tspan><tspan x="-1196.0" y="221.8" font-size="71.5">O</tspan><tspan x="-1149.4" y="221.8" font-size="71.5">S</tspan><tspan x="-1111.1" y="176.5" font-size="117">(</tspan><tspan x="-1073.1" y="176.5" font-size="117" font-style="italic">r</tspan><tspan x="-1029.8" y="176.5" font-size="117">)</tspan></text>
<text transform="rotate(-90) scale(1.22,1)" x="-1832.4" y="207.8" font-family="'Liberation Serif','Times New Roman',serif" font-size="109" fill="#000">g</text>
<text transform="rotate(-90)" font-family="'Liberation Serif','Times New Roman',serif" fill="#000"><tspan x="-2174.3" y="251.0" font-size="71.5">+</tspan><tspan x="-2133.5" y="251.0" font-size="71.5">O</tspan><tspan x="-2086.6" y="251.0" font-size="71.5">w</tspan><tspan x="-2036.1" y="206.7" font-size="117">(</tspan><tspan x="-2000.6" y="206.7" font-size="117" font-style="italic">r</tspan><tspan x="-1956.2" y="206.7" font-size="117">)</tspan></text>
<rect x="457.5" y="170" width="520" height="645" fill="none" stroke="#000" stroke-width="5"/>
<path d="M489.6 258.6H684.7" stroke="#000" stroke-width="7" fill="none"/>
<path d="M489.6 379.6H652" stroke="#f00" stroke-width="5" stroke-dasharray="32.5 33" fill="none"/>
<path d="M492.7 498.5H655" stroke="#008000" stroke-width="18" stroke-dasharray="0 31.4" stroke-linecap="round" fill="none"/>
<path d="M489.6 618.5H682" stroke="#00f" stroke-width="7" stroke-dasharray="40 15.2 11 16.2" fill="none"/>
<path d="M489.6 737.5H670" stroke="#ff8000" stroke-width="5" stroke-dasharray="30 15.4 10 15.4 11.5 15.5" fill="none"/>
<text font-family="'Liberation Serif','Times New Roman',serif" fill="#000"><tspan x="699.4" y="284.3" font-size="83">L</tspan><tspan x="750.5" y="284.3" font-size="83">i</tspan><tspan x="772.3" y="238.8" font-size="53">+</tspan><tspan x="797.7" y="284.3" font-size="83">D</tspan><tspan x="860.1" y="284.3" font-size="83">S</tspan><tspan x="905.5" y="238.8" font-size="53">-</tspan></text>
<text font-family="'Liberation Serif','Times New Roman',serif" fill="#000"><tspan x="698.5" y="404.3" font-size="83">N</tspan><tspan x="761.1" y="404.3" font-size="83">a</tspan><tspan x="796.0" y="358.8" font-size="53">+</tspan><tspan x="823.8" y="404.3" font-size="83">D</tspan><tspan x="883.0" y="404.3" font-size="83">S</tspan><tspan x="930.0" y="358.8" font-size="53">-</tspan></text>
<clipPath id="kp"><rect x="772.2" y="440" width="2.6" height="40"/></clipPath>
<text font-family="'Liberation Serif','Times New Roman',serif" fill="#000"><tspan x="698.2" y="524.4" font-size="83">K</tspan><tspan x="783.9" y="524.4" font-size="83">D</tspan><tspan x="846.7" y="524.4" font-size="83">S</tspan><tspan x="891.7" y="478.9" font-size="53">-</tspan></text>
<text x="758.5" y="479.4" font-family="'Liberation Serif','Times New Roman',serif" font-size="53" fill="#f08020" clip-path="url(#kp)">+</text>
<text font-family="'Liberation Serif','Times New Roman',serif" fill="#000"><tspan x="699.1" y="644.3" font-size="83">R</tspan><tspan x="754.3" y="644.3" font-size="83">b</tspan><tspan x="796.0" y="598.8" font-size="53">+</tspan><tspan x="823.8" y="644.3" font-size="83">D</tspan><tspan x="883.0" y="644.3" font-size="83">S</tspan><tspan x="930.0" y="598.8" font-size="53">-</tspan></text>
<text font-family="'Liberation Serif','Times New Roman',serif" fill="#000"><tspan x="699.6" y="764.3" font-size="83">C</tspan><tspan x="754.6" y="764.3" font-size="83">s</tspan><tspan x="786.2" y="718.8" font-size="53">+</tspan><tspan x="814.0" y="764.3" font-size="83">D</tspan><tspan x="874.8" y="764.3" font-size="83">S</tspan><tspan x="921.0" y="718.8" font-size="53">-</tspan></text>
<rect x="1315.2" y="197.2" width="569.7" height="207.5" fill="#000"/>
<rect x="1295.0" y="179.7" width="567.4" height="197.6" fill="#fff" stroke="#000" stroke-width="4.8"/>
<rect x="1325.2" y="1207.8" width="557.5" height="207.1" fill="#000"/>
<rect x="1305.0" y="1190.1" width="555.3" height="202.3" fill="#fff" stroke="#000" stroke-width="4.8"/>
<rect x="1230.2" y="2075.5" width="652.4" height="217.2" fill="#000"/>
<rect x="1210.0" y="2055.4" width="647.7" height="212.5" fill="#fff" stroke="#000" stroke-width="4.8"/>
<text font-family="'Liberation Serif','Times New Roman',serif" fill="#000"><tspan x="1347.1" y="313.5" font-size="115" font-weight="bold">c</tspan><tspan x="1397.4" y="313.5" font-size="115" font-weight="bold">a</tspan><tspan x="1459.0" y="313.5" font-size="115" font-weight="bold">t</tspan><tspan x="1496.5" y="313.5" font-size="115" font-weight="bold">i</tspan><tspan x="1526.0" y="313.5" font-size="115" font-weight="bold">o</tspan><tspan x="1583.2" y="313.5" font-size="115" font-weight="bold">n</tspan><tspan x="1678.6" y="313.5" font-size="115" font-weight="bold">-</tspan><tspan x="1742.6" y="313.5" font-size="115" font-weight="bold">S</tspan></text>
<text font-family="'Liberation Serif','Times New Roman',serif" fill="#000" transform="scale(0.93,1)"><tspan x="1457.8" y="1317.0" font-size="109" font-weight="bold">c</tspan><tspan x="1505.4" y="1317.0" font-size="109" font-weight="bold">a</tspan><tspan x="1561.1" y="1317.0" font-size="109" font-weight="bold">t</tspan><tspan x="1597.1" y="1317.0" font-size="109" font-weight="bold">i</tspan><tspan x="1629.5" y="1317.0" font-size="109" font-weight="bold">o</tspan><tspan x="1680.8" y="1317.0" font-size="109" font-weight="bold">n</tspan><tspan x="1772.3" y="1317.0" font-size="109" font-weight="bold">-</tspan><tspan x="1835.9" y="1317.0" font-size="109" font-weight="bold">O</tspan><tspan x="1923.3" y="1354.2" font-size="56" font-weight="bold">s</tspan></text>
<text font-family="'Liberation Serif','Times New Roman',serif" fill="#000"><tspan x="1265.7" y="2192.5" font-size="115" font-weight="bold">c</tspan><tspan x="1316.8" y="2192.5" font-size="115" font-weight="bold">a</tspan><tspan x="1376.7" y="2192.5" font-size="115" font-weight="bold">t</tspan><tspan x="1414.3" y="2192.5" font-size="115" font-weight="bold">i</tspan><tspan x="1444.0" y="2192.5" font-size="115" font-weight="bold">o</tspan><tspan x="1502.9" y="2192.5" font-size="115" font-weight="bold">n</tspan><tspan x="1596.2" y="2192.5" font-size="115" font-weight="bold">-</tspan><tspan x="1663.2" y="2192.5" font-size="115" font-weight="bold">O</tspan><tspan x="1754.4" y="2234.5" font-size="61" font-weight="bold">w</tspan></text>
</svg>
</body></html>
